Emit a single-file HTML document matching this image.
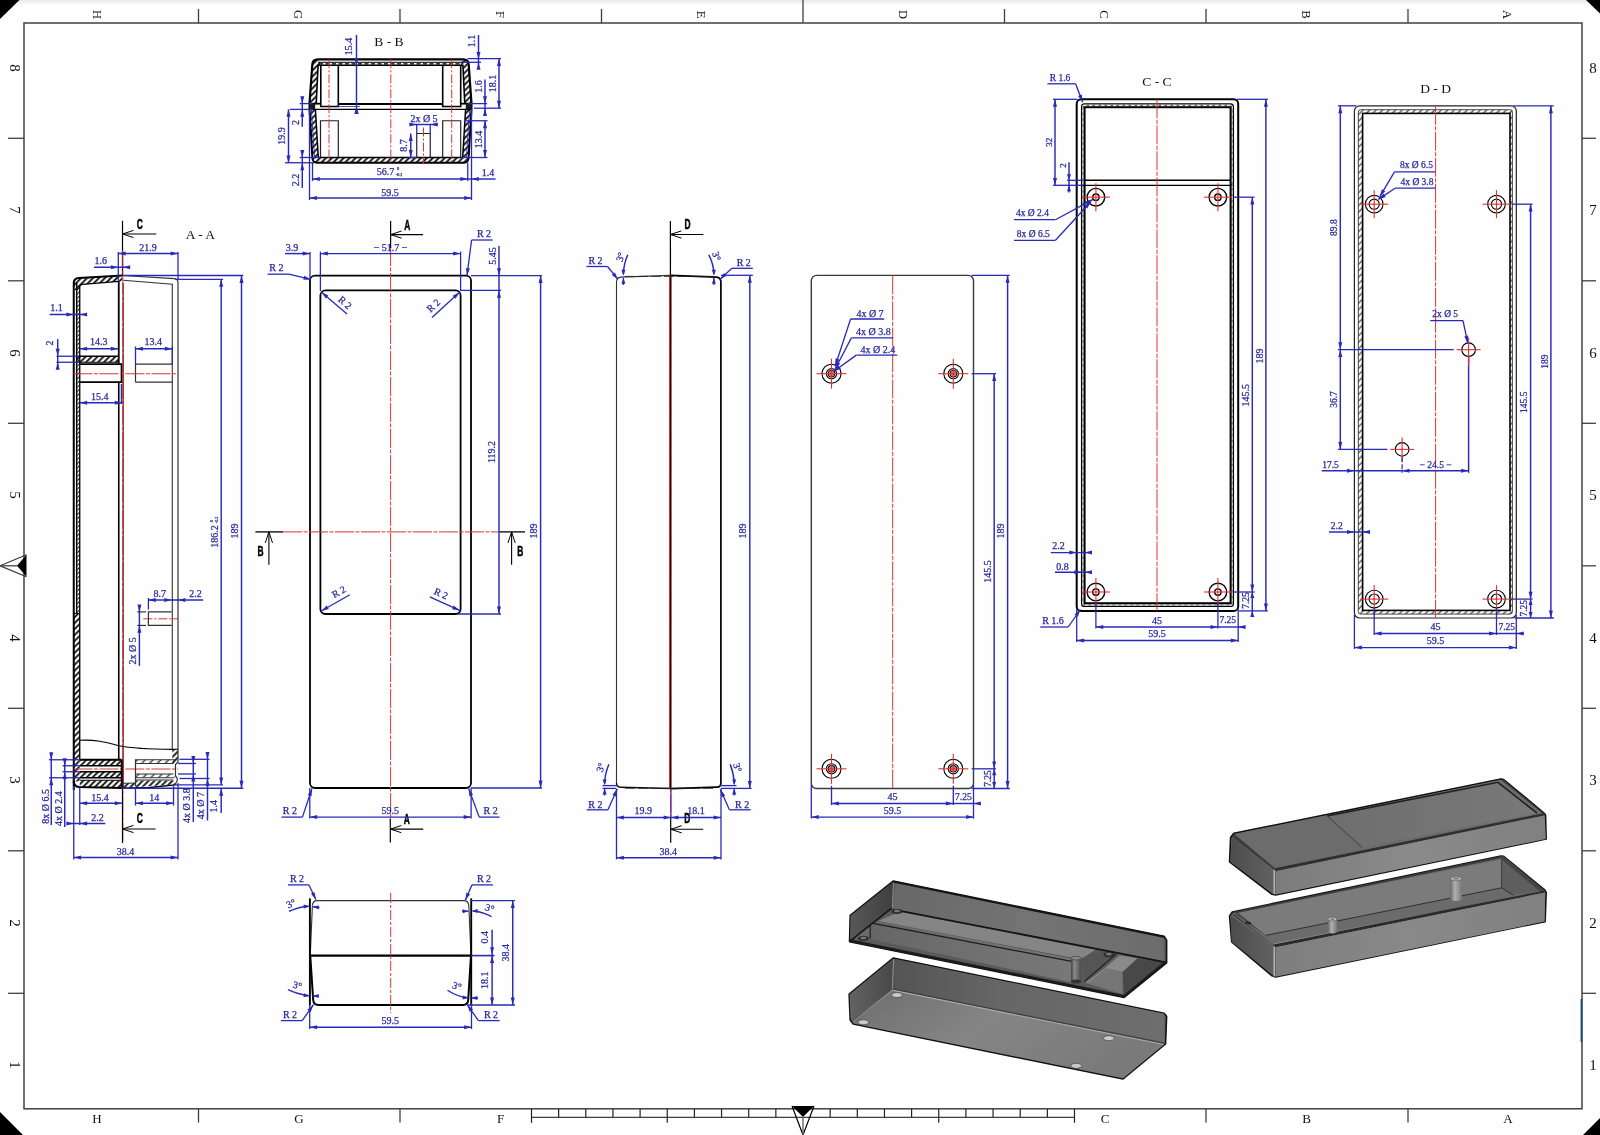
<!DOCTYPE html>
<html><head><meta charset="utf-8"><title>Drawing</title>
<style>html,body{margin:0;padding:0;background:#fefefe}body{width:1600px;height:1135px;overflow:hidden;font-family:"Liberation Serif",serif}svg{display:block}</style>
</head><body>
<svg width="1600" height="1135" viewBox="0 0 1600 1135">
<defs>
<pattern id="h1" width="4.2" height="4.2" patternUnits="userSpaceOnUse" patternTransform="rotate(45)"><line x1="2" y1="0" x2="2" y2="4.2" stroke="#000" stroke-width="1.7"/></pattern>
<pattern id="h2" width="3" height="3" patternUnits="userSpaceOnUse" patternTransform="rotate(45)"><line x1="1.5" y1="0" x2="1.5" y2="3" stroke="#000" stroke-width="0.9"/></pattern>
<pattern id="h3" width="5.5" height="5.5" patternUnits="userSpaceOnUse" patternTransform="rotate(45)"><line x1="2" y1="0" x2="2" y2="5.5" stroke="#000" stroke-width="1"/></pattern>
<pattern id="h4" width="4.6" height="4.6" patternUnits="userSpaceOnUse" patternTransform="rotate(45)"><line x1="2" y1="0" x2="2" y2="4.6" stroke="#000" stroke-width="0.9"/></pattern>
<filter id="noop" filterUnits="userSpaceOnUse" x="0" y="0" width="1600" height="1135"><feOffset dx="0" dy="0"/></filter>
<linearGradient id="topshade" x1="0" y1="0" x2="0" y2="1"><stop offset="0" stop-color="#e8e8e8"/><stop offset="1" stop-color="#fefefe"/></linearGradient>

<linearGradient id="g_back1" x1="0" y1="0" x2="1" y2="0"><stop offset="0" stop-color="#686868"/><stop offset="0.5" stop-color="#747474"/><stop offset="1" stop-color="#6c6c6c"/></linearGradient>
<linearGradient id="g_left1" x1="0" y1="0" x2="1" y2="0"><stop offset="0" stop-color="#585858"/><stop offset="1" stop-color="#3f3f3f"/></linearGradient>
<linearGradient id="g_plat" x1="0" y1="0" x2="1" y2="0"><stop offset="0" stop-color="#666"/><stop offset="0.6" stop-color="#727272"/><stop offset="1" stop-color="#787878"/></linearGradient>
<linearGradient id="g_cyl" x1="0" y1="0" x2="1" y2="0"><stop offset="0" stop-color="#444"/><stop offset="0.35" stop-color="#8a8a8a"/><stop offset="1" stop-color="#4a4a4a"/></linearGradient>
<linearGradient id="g_cyl2" x1="0" y1="0" x2="1" y2="0"><stop offset="0" stop-color="#6a6a6a"/><stop offset="0.4" stop-color="#b0b0b0"/><stop offset="1" stop-color="#7a7a7a"/></linearGradient>
<linearGradient id="g_left2" x1="0" y1="0" x2="1" y2="0"><stop offset="0" stop-color="#636363"/><stop offset="1" stop-color="#484848"/></linearGradient>
<linearGradient id="g_wall2" x1="0" y1="0" x2="1" y2="0"><stop offset="0" stop-color="#545454"/><stop offset="0.4" stop-color="#666"/><stop offset="1" stop-color="#6e6e6e"/></linearGradient>
<linearGradient id="g_bot2" x1="0" y1="0" x2="1" y2="0.4"><stop offset="0" stop-color="#6e6e6e"/><stop offset="0.5" stop-color="#858585"/><stop offset="1" stop-color="#7a7a7a"/></linearGradient>
<linearGradient id="g_lidtop" x1="0" y1="0" x2="1" y2="0"><stop offset="0" stop-color="#6e6e6e"/><stop offset="1" stop-color="#797979"/></linearGradient>
<linearGradient id="g_front3" x1="0" y1="0" x2="1" y2="0"><stop offset="0" stop-color="#7c7c7c"/><stop offset="0.5" stop-color="#8a8a8a"/><stop offset="1" stop-color="#808080"/></linearGradient>
<linearGradient id="g_front4" x1="0" y1="0" x2="1" y2="0"><stop offset="0" stop-color="#7e7e7e"/><stop offset="0.5" stop-color="#898989"/><stop offset="1" stop-color="#808080"/></linearGradient>
<linearGradient id="g_left3" x1="0" y1="0" x2="1" y2="0"><stop offset="0" stop-color="#4c4c4c"/><stop offset="1" stop-color="#626262"/></linearGradient>
</defs>
<rect x="0" y="0" width="1600" height="1135" fill="#fefefe"/>
<rect x="0" y="0" width="1600" height="5" fill="url(#topshade)"/>
<g filter="url(#noop)">
<rect x="24" y="23" width="1558" height="1085.8" fill="none" stroke="#404040" stroke-width="1.5"/>
<polygon points="0,0 19.5,0 0,19" fill="#000" stroke="none" stroke-width="0" />
<polygon points="1586,0 1600,0 1600,13.5" fill="#000" stroke="none" stroke-width="0" />
<polygon points="0,1112 0,1135 23,1135" fill="#000" stroke="none" stroke-width="0" />
<polygon points="1600,1118 1600,1135 1583,1135" fill="#000" stroke="none" stroke-width="0" />
<line x1="198.5" y1="9" x2="198.5" y2="23" stroke="#404040" stroke-width="1.3" />
<line x1="400" y1="9" x2="400" y2="23" stroke="#404040" stroke-width="1.3" />
<line x1="601.5" y1="9" x2="601.5" y2="23" stroke="#404040" stroke-width="1.3" />
<line x1="1004.5" y1="9" x2="1004.5" y2="23" stroke="#404040" stroke-width="1.3" />
<line x1="1206" y1="9" x2="1206" y2="23" stroke="#404040" stroke-width="1.3" />
<line x1="1408" y1="9" x2="1408" y2="23" stroke="#404040" stroke-width="1.3" />
<line x1="803" y1="0" x2="803" y2="23" stroke="#404040" stroke-width="1.3" />
<line x1="198.5" y1="1109" x2="198.5" y2="1122.5" stroke="#404040" stroke-width="1.3" />
<line x1="400" y1="1109" x2="400" y2="1122.5" stroke="#404040" stroke-width="1.3" />
<line x1="1206" y1="1109" x2="1206" y2="1122.5" stroke="#404040" stroke-width="1.3" />
<line x1="1408" y1="1109" x2="1408" y2="1122.5" stroke="#404040" stroke-width="1.3" />
<line x1="1582" y1="138.3" x2="1596" y2="138.3" stroke="#404040" stroke-width="1.3" />
<line x1="8" y1="138.3" x2="24" y2="138.3" stroke="#404040" stroke-width="1.3" />
<line x1="1582" y1="280.8" x2="1596" y2="280.8" stroke="#404040" stroke-width="1.3" />
<line x1="8" y1="280.8" x2="24" y2="280.8" stroke="#404040" stroke-width="1.3" />
<line x1="1582" y1="423.3" x2="1596" y2="423.3" stroke="#404040" stroke-width="1.3" />
<line x1="8" y1="423.3" x2="24" y2="423.3" stroke="#404040" stroke-width="1.3" />
<line x1="1582" y1="565.8" x2="1596" y2="565.8" stroke="#404040" stroke-width="1.3" />
<line x1="1582" y1="708.3" x2="1596" y2="708.3" stroke="#404040" stroke-width="1.3" />
<line x1="8" y1="708.3" x2="24" y2="708.3" stroke="#404040" stroke-width="1.3" />
<line x1="1582" y1="850.8" x2="1596" y2="850.8" stroke="#404040" stroke-width="1.3" />
<line x1="8" y1="850.8" x2="24" y2="850.8" stroke="#404040" stroke-width="1.3" />
<line x1="1582" y1="993.3" x2="1596" y2="993.3" stroke="#404040" stroke-width="1.3" />
<line x1="8" y1="993.3" x2="24" y2="993.3" stroke="#404040" stroke-width="1.3" />
<text x="97" y="18.75" font-family="Liberation Serif" font-size="12.5" fill="#111" text-anchor="middle" font-weight="normal" transform="rotate(90 97 14.5)" >H</text>
<text x="298.5" y="18.75" font-family="Liberation Serif" font-size="12.5" fill="#111" text-anchor="middle" font-weight="normal" transform="rotate(90 298.5 14.5)" >G</text>
<text x="500" y="18.75" font-family="Liberation Serif" font-size="12.5" fill="#111" text-anchor="middle" font-weight="normal" transform="rotate(90 500 14.5)" >F</text>
<text x="701.5" y="18.75" font-family="Liberation Serif" font-size="12.5" fill="#111" text-anchor="middle" font-weight="normal" transform="rotate(90 701.5 14.5)" >E</text>
<text x="903" y="18.75" font-family="Liberation Serif" font-size="12.5" fill="#111" text-anchor="middle" font-weight="normal" transform="rotate(90 903 14.5)" >D</text>
<text x="1104.5" y="18.75" font-family="Liberation Serif" font-size="12.5" fill="#111" text-anchor="middle" font-weight="normal" transform="rotate(90 1104.5 14.5)" >C</text>
<text x="1306" y="18.75" font-family="Liberation Serif" font-size="12.5" fill="#111" text-anchor="middle" font-weight="normal" transform="rotate(90 1306 14.5)" >B</text>
<text x="1507.5" y="18.75" font-family="Liberation Serif" font-size="12.5" fill="#111" text-anchor="middle" font-weight="normal" transform="rotate(90 1507.5 14.5)" >A</text>
<text x="97" y="1122.92" font-family="Liberation Serif" font-size="13" fill="#111" text-anchor="middle" font-weight="normal" >H</text>
<text x="299" y="1122.92" font-family="Liberation Serif" font-size="13" fill="#111" text-anchor="middle" font-weight="normal" >G</text>
<text x="500.5" y="1122.92" font-family="Liberation Serif" font-size="13" fill="#111" text-anchor="middle" font-weight="normal" >F</text>
<text x="1105" y="1122.92" font-family="Liberation Serif" font-size="13" fill="#111" text-anchor="middle" font-weight="normal" >C</text>
<text x="1306.5" y="1122.92" font-family="Liberation Serif" font-size="13" fill="#111" text-anchor="middle" font-weight="normal" >B</text>
<text x="1508" y="1122.92" font-family="Liberation Serif" font-size="13" fill="#111" text-anchor="middle" font-weight="normal" >A</text>
<text x="1593" y="73.1" font-family="Liberation Serif" font-size="15" fill="#111" text-anchor="middle" font-weight="normal" >8</text>
<text x="15" y="73.1" font-family="Liberation Serif" font-size="15" fill="#111" text-anchor="middle" font-weight="normal" transform="rotate(90 15 68)" >8</text>
<text x="1593" y="215.1" font-family="Liberation Serif" font-size="15" fill="#111" text-anchor="middle" font-weight="normal" >7</text>
<text x="15" y="215.1" font-family="Liberation Serif" font-size="15" fill="#111" text-anchor="middle" font-weight="normal" transform="rotate(90 15 210)" >7</text>
<text x="1593" y="358.1" font-family="Liberation Serif" font-size="15" fill="#111" text-anchor="middle" font-weight="normal" >6</text>
<text x="15" y="358.1" font-family="Liberation Serif" font-size="15" fill="#111" text-anchor="middle" font-weight="normal" transform="rotate(90 15 353)" >6</text>
<text x="1593" y="500.1" font-family="Liberation Serif" font-size="15" fill="#111" text-anchor="middle" font-weight="normal" >5</text>
<text x="15" y="500.1" font-family="Liberation Serif" font-size="15" fill="#111" text-anchor="middle" font-weight="normal" transform="rotate(90 15 495)" >5</text>
<text x="1593" y="643.1" font-family="Liberation Serif" font-size="15" fill="#111" text-anchor="middle" font-weight="normal" >4</text>
<text x="15" y="643.1" font-family="Liberation Serif" font-size="15" fill="#111" text-anchor="middle" font-weight="normal" transform="rotate(90 15 638)" >4</text>
<text x="1593" y="785.1" font-family="Liberation Serif" font-size="15" fill="#111" text-anchor="middle" font-weight="normal" >3</text>
<text x="15" y="785.1" font-family="Liberation Serif" font-size="15" fill="#111" text-anchor="middle" font-weight="normal" transform="rotate(90 15 780)" >3</text>
<text x="1593" y="928.1" font-family="Liberation Serif" font-size="15" fill="#111" text-anchor="middle" font-weight="normal" >2</text>
<text x="15" y="928.1" font-family="Liberation Serif" font-size="15" fill="#111" text-anchor="middle" font-weight="normal" transform="rotate(90 15 923)" >2</text>
<text x="1593" y="1070.1" font-family="Liberation Serif" font-size="15" fill="#111" text-anchor="middle" font-weight="normal" >1</text>
<text x="15" y="1070.1" font-family="Liberation Serif" font-size="15" fill="#111" text-anchor="middle" font-weight="normal" transform="rotate(90 15 1065)" >1</text>
<line x1="531.5" y1="1117.3" x2="1074.5" y2="1117.3" stroke="#404040" stroke-width="1.3" />
<line x1="531.5" y1="1109" x2="531.5" y2="1122.8" stroke="#222" stroke-width="1.2" />
<line x1="558.65" y1="1109" x2="558.65" y2="1117.3" stroke="#222" stroke-width="1.2" />
<line x1="585.8" y1="1109" x2="585.8" y2="1117.3" stroke="#222" stroke-width="1.2" />
<line x1="612.95" y1="1109" x2="612.95" y2="1117.3" stroke="#222" stroke-width="1.2" />
<line x1="640.1" y1="1109" x2="640.1" y2="1117.3" stroke="#222" stroke-width="1.2" />
<line x1="667.25" y1="1109" x2="667.25" y2="1122.8" stroke="#222" stroke-width="1.2" />
<line x1="694.4" y1="1109" x2="694.4" y2="1117.3" stroke="#222" stroke-width="1.2" />
<line x1="721.55" y1="1109" x2="721.55" y2="1117.3" stroke="#222" stroke-width="1.2" />
<line x1="748.7" y1="1109" x2="748.7" y2="1117.3" stroke="#222" stroke-width="1.2" />
<line x1="775.85" y1="1109" x2="775.85" y2="1117.3" stroke="#222" stroke-width="1.2" />
<line x1="830.15" y1="1109" x2="830.15" y2="1117.3" stroke="#222" stroke-width="1.2" />
<line x1="857.3" y1="1109" x2="857.3" y2="1117.3" stroke="#222" stroke-width="1.2" />
<line x1="884.45" y1="1109" x2="884.45" y2="1117.3" stroke="#222" stroke-width="1.2" />
<line x1="911.6" y1="1109" x2="911.6" y2="1117.3" stroke="#222" stroke-width="1.2" />
<line x1="938.75" y1="1109" x2="938.75" y2="1122.8" stroke="#222" stroke-width="1.2" />
<line x1="965.9" y1="1109" x2="965.9" y2="1117.3" stroke="#222" stroke-width="1.2" />
<line x1="993.05" y1="1109" x2="993.05" y2="1117.3" stroke="#222" stroke-width="1.2" />
<line x1="1020.2" y1="1109" x2="1020.2" y2="1117.3" stroke="#222" stroke-width="1.2" />
<line x1="1047.35" y1="1109" x2="1047.35" y2="1117.3" stroke="#222" stroke-width="1.2" />
<line x1="1074.5" y1="1109" x2="1074.5" y2="1122.8" stroke="#222" stroke-width="1.2" />
<polygon points="792,1106 814,1106 803,1117" fill="#000" stroke="none" stroke-width="0" />
<path d="M792,1106 L803,1135 L814,1106" stroke="#000" stroke-width="1.2" fill="none" />
<line x1="803" y1="1117" x2="803" y2="1135" stroke="#666" stroke-width="1.4" />
<polygon points="26.5,554.8 26.5,576.8 17,565.8" fill="#000" stroke="none" stroke-width="0" />
<path d="M26.5,554.8 L0,565.8 L26.5,576.8" stroke="#333" stroke-width="1.2" fill="none" />
<line x1="0" y1="565.8" x2="17" y2="565.8" stroke="#444" stroke-width="1.3" />
<line x1="1581.4" y1="999" x2="1581.4" y2="1042" stroke="#1a4a80" stroke-width="1.6" />
<text x="389" y="46.09" font-family="Liberation Serif" font-size="13.5" fill="#111" text-anchor="middle" font-weight="normal" >B - B</text>
<polygon points="309.5,103.7 312.3,64 314.5,60.3 318,59.3 320,59.3 320,65.3 318.1,65.3 316.2,103.7" fill="url(#h1)" stroke="none" stroke-width="0" />
<polygon points="471.5,103.7 468.7,64 466.5,60.3 463,59.3 461,59.3 461,65.3 462.9,65.3 464.8,103.7" fill="url(#h1)" stroke="none" stroke-width="0" />
<path d="M309.5,103.7 L312.3,64.5 Q312.6,59.3 318,59.3 L463,59.3 Q468.4,59.3 468.7,64.5 L471.5,103.7" stroke="#000" stroke-width="2.2" fill="none" />
<path d="M316.2,103.7 L318.1,65.3 L462.9,65.3 L464.8,103.7" stroke="#000" stroke-width="1.6" fill="none" />
<line x1="318" y1="62.3" x2="463" y2="62.3" stroke="#000" stroke-width="1" />
<line x1="319" y1="63.9" x2="462" y2="63.9" stroke="#000" stroke-width="1.1" stroke-dasharray="4 2.5" />
<path d="M320.8,65.3 L320.8,106.5 L338.3,106.5 L338.3,65.3" stroke="#000" stroke-width="1.6" fill="none" />
<path d="M442.7,65.3 L442.7,106.5 L460.7,106.5 L460.7,65.3" stroke="#000" stroke-width="1.6" fill="none" />
<line x1="338.3" y1="103.9" x2="442.7" y2="103.9" stroke="#000" stroke-width="2" />
<line x1="309.5" y1="103.7" x2="320.8" y2="103.7" stroke="#000" stroke-width="1.8" />
<line x1="460.7" y1="103.7" x2="471.5" y2="103.7" stroke="#000" stroke-width="1.8" />
<line x1="309.5" y1="109.4" x2="471.5" y2="109.4" stroke="#000" stroke-width="1.2" />
<line x1="309.5" y1="103.7" x2="309.5" y2="109.4" stroke="#000" stroke-width="2" />
<line x1="471.5" y1="103.7" x2="471.5" y2="109.4" stroke="#000" stroke-width="2" />
<rect x="309.6" y="103.7" width="5.6" height="5.7" fill="#1a1a1a"/>
<rect x="465.8" y="103.7" width="5.6" height="5.7" fill="#1a1a1a"/>
<polygon points="309.5,109.4 315.4,109.4 318.3,157.5 462.7,157.5 465.6,109.4 471.5,109.4 468.6,158 466,162.75 315,162.75 312.4,158" fill="url(#h1)" stroke="none" stroke-width="0" />
<path d="M309.5,109.4 L312.4,158 Q312.8,162.75 317,162.75 L464,162.75 Q468.2,162.75 468.6,158 L471.5,109.4" stroke="#000" stroke-width="2" fill="none" />
<path d="M315.4,109.4 L318.3,157.5 L462.7,157.5 L465.6,109.4" stroke="#000" stroke-width="1.5" fill="none" />
<line x1="311.4" y1="110" x2="314.6" y2="158" stroke="#2a2ab8" stroke-width="0.9" />
<line x1="469.6" y1="110" x2="466.4" y2="158" stroke="#2a2ab8" stroke-width="0.9" />
<path d="M320.5,157.5 L320.5,120.75 L338.3,120.75 L338.3,157.5" stroke="#222" stroke-width="1.2" fill="none" />
<path d="M442.7,157.5 L442.7,120.75 L460.7,120.75 L460.7,157.5" stroke="#222" stroke-width="1.2" fill="none" />
<path d="M416.75,157.5 L416.75,133.5 L430.25,133.5 L430.25,157.5" stroke="#222" stroke-width="1.2" fill="none" />
<line x1="329" y1="59.3" x2="329" y2="163.5" stroke="#dc3434" stroke-width="1" stroke-dasharray="9 2 2 2" />
<line x1="390.8" y1="59.3" x2="390.8" y2="163.5" stroke="#dc3434" stroke-width="1" stroke-dasharray="9 2 2 2" />
<line x1="451.7" y1="59.3" x2="451.7" y2="163.5" stroke="#dc3434" stroke-width="1" stroke-dasharray="9 2 2 2" />
<line x1="423.5" y1="127.5" x2="423.5" y2="163.5" stroke="#dc3434" stroke-width="1" stroke-dasharray="9 2 2 2" />
<line x1="356.5" y1="35" x2="356.5" y2="113" stroke="#2a2ab8" stroke-width="1.45" />
<polygon points="356.5,65.3 354.5,57.9 358.5,57.9" fill="#2a2ab8" stroke="none" stroke-width="0" />
<polygon points="356.5,106.5 358.5,113.9 354.5,113.9" fill="#2a2ab8" stroke="none" stroke-width="0" />
<polygon points="356.5,106.5 358.5,113.9 354.5,113.9" fill="#2a2ab8" stroke="none" stroke-width="0" />
<line x1="338.3" y1="106.5" x2="360" y2="106.5" stroke="#2a2ab8" stroke-width="0.8" />
<text x="349" y="49.9" font-family="Liberation Serif" font-size="10" fill="#28289c" text-anchor="middle" font-weight="normal" transform="rotate(-90 349 46.5)" stroke="#28289c" stroke-width="0.25" >15.4</text>
<line x1="478.5" y1="35" x2="478.5" y2="68" stroke="#2a2ab8" stroke-width="1.45" />
<polygon points="478.5,59.3 476.5,51.9 480.5,51.9" fill="#2a2ab8" stroke="none" stroke-width="0" />
<polygon points="478.5,62.3 480.5,69.7 476.5,69.7" fill="#2a2ab8" stroke="none" stroke-width="0" />
<line x1="467.5" y1="58.6" x2="501" y2="58.6" stroke="#2a2ab8" stroke-width="1.3" />
<line x1="461" y1="62.3" x2="481" y2="62.3" stroke="#2a2ab8" stroke-width="1.3" />
<text x="471.5" y="44.4" font-family="Liberation Serif" font-size="10" fill="#28289c" text-anchor="middle" font-weight="normal" transform="rotate(-90 471.5 41)" stroke="#28289c" stroke-width="0.25" >1.1</text>
<line x1="499" y1="58.6" x2="499" y2="108.2" stroke="#2a2ab8" stroke-width="1.45" />
<polygon points="499,58.6 501,66 497,66" fill="#2a2ab8" stroke="none" stroke-width="0" />
<polygon points="499,108.2 497,100.8 501,100.8" fill="#2a2ab8" stroke="none" stroke-width="0" />
<text x="492.5" y="86.9" font-family="Liberation Serif" font-size="10" fill="#28289c" text-anchor="middle" font-weight="normal" transform="rotate(-90 492.5 83.5)" stroke="#28289c" stroke-width="0.25" >18.1</text>
<line x1="485" y1="79.5" x2="485" y2="115" stroke="#2a2ab8" stroke-width="1.45" />
<polygon points="485,103.6 483,96.2 487,96.2" fill="#2a2ab8" stroke="none" stroke-width="0" />
<polygon points="485,108.5 487,115.9 483,115.9" fill="#2a2ab8" stroke="none" stroke-width="0" />
<text x="479" y="89.9" font-family="Liberation Serif" font-size="10" fill="#28289c" text-anchor="middle" font-weight="normal" transform="rotate(-90 479 86.5)" stroke="#28289c" stroke-width="0.25" >1.6</text>
<line x1="468" y1="103.6" x2="487" y2="103.6" stroke="#2a2ab8" stroke-width="1.3" />
<line x1="474" y1="108.2" x2="501" y2="108.2" stroke="#2a2ab8" stroke-width="1.3" />
<line x1="485" y1="120.75" x2="485" y2="157.5" stroke="#2a2ab8" stroke-width="1.45" />
<polygon points="485,120.75 487,128.15 483,128.15" fill="#2a2ab8" stroke="none" stroke-width="0" />
<polygon points="485,157.5 483,150.1 487,150.1" fill="#2a2ab8" stroke="none" stroke-width="0" />
<line x1="464" y1="120.75" x2="487.5" y2="120.75" stroke="#2a2ab8" stroke-width="1.3" />
<line x1="461" y1="157.5" x2="487.5" y2="157.5" stroke="#2a2ab8" stroke-width="1.3" />
<text x="479" y="142.9" font-family="Liberation Serif" font-size="10" fill="#28289c" text-anchor="middle" font-weight="normal" transform="rotate(-90 479 139.5)" stroke="#28289c" stroke-width="0.25" >13.4</text>
<text x="424" y="121.9" font-family="Liberation Serif" font-size="10" fill="#28289c" text-anchor="middle" font-weight="normal" stroke="#28289c" stroke-width="0.25" >2x Ø 5</text>
<line x1="410" y1="124.5" x2="438" y2="124.5" stroke="#2a2ab8" stroke-width="1.45" />
<polygon points="416.75,124.5 409.35,126.5 409.35,122.5" fill="#2a2ab8" stroke="none" stroke-width="0" />
<polygon points="430.25,124.5 437.65,122.5 437.65,126.5" fill="#2a2ab8" stroke="none" stroke-width="0" />
<line x1="416.75" y1="124.5" x2="416.75" y2="133.5" stroke="#2a2ab8" stroke-width="1.3" />
<line x1="430.25" y1="124.5" x2="430.25" y2="133.5" stroke="#2a2ab8" stroke-width="1.3" />
<line x1="410.75" y1="133.5" x2="410.75" y2="157.5" stroke="#2a2ab8" stroke-width="1.45" />
<polygon points="410.75,133.5 412.75,140.9 408.75,140.9" fill="#2a2ab8" stroke="none" stroke-width="0" />
<polygon points="410.75,157.5 408.75,150.1 412.75,150.1" fill="#2a2ab8" stroke="none" stroke-width="0" />
<text x="404" y="148.9" font-family="Liberation Serif" font-size="10" fill="#28289c" text-anchor="middle" font-weight="normal" transform="rotate(-90 404 145.5)" stroke="#28289c" stroke-width="0.25" >8.7</text>
<line x1="409" y1="157.5" x2="417" y2="157.5" stroke="#2a2ab8" stroke-width="1.3" />
<line x1="302.3" y1="96.8" x2="302.3" y2="126.8" stroke="#2a2ab8" stroke-width="1.45" />
<polygon points="302.3,103.6 300.3,96.2 304.3,96.2" fill="#2a2ab8" stroke="none" stroke-width="0" />
<polygon points="302.3,109.4 304.3,116.8 300.3,116.8" fill="#2a2ab8" stroke="none" stroke-width="0" />
<line x1="299.7" y1="103.6" x2="312.5" y2="103.6" stroke="#2a2ab8" stroke-width="1.3" />
<line x1="290" y1="109.4" x2="312.5" y2="109.4" stroke="#2a2ab8" stroke-width="1.3" />
<text x="296" y="125.9" font-family="Liberation Serif" font-size="10" fill="#28289c" text-anchor="middle" font-weight="normal" transform="rotate(-90 296 122.5)" stroke="#28289c" stroke-width="0.25" >2</text>
<line x1="288.5" y1="109.3" x2="288.5" y2="162.9" stroke="#2a2ab8" stroke-width="1.45" />
<polygon points="288.5,109.3 290.5,116.7 286.5,116.7" fill="#2a2ab8" stroke="none" stroke-width="0" />
<polygon points="288.5,162.9 286.5,155.5 290.5,155.5" fill="#2a2ab8" stroke="none" stroke-width="0" />
<text x="282" y="139.4" font-family="Liberation Serif" font-size="10" fill="#28289c" text-anchor="middle" font-weight="normal" transform="rotate(-90 282 136)" stroke="#28289c" stroke-width="0.25" >19.9</text>
<line x1="302.3" y1="150" x2="302.3" y2="188" stroke="#2a2ab8" stroke-width="1.45" />
<polygon points="302.3,157.5 300.3,150.1 304.3,150.1" fill="#2a2ab8" stroke="none" stroke-width="0" />
<polygon points="302.3,162.75 304.3,170.15 300.3,170.15" fill="#2a2ab8" stroke="none" stroke-width="0" />
<line x1="299.7" y1="157.5" x2="320" y2="157.5" stroke="#2a2ab8" stroke-width="1.3" />
<line x1="285" y1="162.75" x2="314" y2="162.75" stroke="#2a2ab8" stroke-width="1.3" />
<text x="296" y="183.4" font-family="Liberation Serif" font-size="10" fill="#28289c" text-anchor="middle" font-weight="normal" transform="rotate(-90 296 180)" stroke="#28289c" stroke-width="0.25" >2.2</text>
<line x1="312.5" y1="179" x2="467.75" y2="179" stroke="#2a2ab8" stroke-width="1.45" />
<polygon points="312.5,179 319.9,177 319.9,181" fill="#2a2ab8" stroke="none" stroke-width="0" />
<polygon points="467.75,179 460.35,181 460.35,177" fill="#2a2ab8" stroke="none" stroke-width="0" />
<text x="385.5" y="175.2" font-family="Liberation Serif" font-size="10" fill="#28289c" text-anchor="middle" font-weight="normal" stroke="#28289c" stroke-width="0.25" >56.7</text>
<text x="398" y="170.03" font-family="Liberation Serif" font-size="4.5" fill="#28289c" text-anchor="middle" font-weight="normal" stroke="#28289c" stroke-width="0.25" >0</text>
<text x="399" y="175.86" font-family="Liberation Serif" font-size="4" fill="#28289c" text-anchor="middle" font-weight="normal" stroke="#28289c" stroke-width="0.25" >-0.2</text>
<line x1="467.75" y1="179" x2="495.5" y2="179" stroke="#2a2ab8" stroke-width="1.45" />
<polygon points="471.5,179 478.9,177 478.9,181" fill="#2a2ab8" stroke="none" stroke-width="0" />
<text x="488" y="175.9" font-family="Liberation Serif" font-size="10" fill="#28289c" text-anchor="middle" font-weight="normal" stroke="#28289c" stroke-width="0.25" >1.4</text>
<line x1="309.5" y1="198" x2="471.5" y2="198" stroke="#2a2ab8" stroke-width="1.45" />
<polygon points="309.5,198 316.9,196 316.9,200" fill="#2a2ab8" stroke="none" stroke-width="0" />
<polygon points="471.5,198 464.1,200 464.1,196" fill="#2a2ab8" stroke="none" stroke-width="0" />
<text x="390" y="195.7" font-family="Liberation Serif" font-size="10" fill="#28289c" text-anchor="middle" font-weight="normal" stroke="#28289c" stroke-width="0.25" >59.5</text>
<line x1="309.5" y1="109.4" x2="309.5" y2="200" stroke="#2a2ab8" stroke-width="1.3" />
<line x1="471.5" y1="109.4" x2="471.5" y2="200" stroke="#2a2ab8" stroke-width="1.3" />
<line x1="312.5" y1="162.75" x2="312.5" y2="181" stroke="#2a2ab8" stroke-width="1.3" />
<line x1="467.75" y1="162.75" x2="467.75" y2="181" stroke="#2a2ab8" stroke-width="1.3" />
<text x="200.5" y="238.59" font-family="Liberation Serif" font-size="13.5" fill="#111" text-anchor="middle" font-weight="normal" >A - A</text>
<line x1="122.5" y1="220.8" x2="122.5" y2="276" stroke="#000" stroke-width="1.2" />
<line x1="122.5" y1="234" x2="156.25" y2="234" stroke="#000" stroke-width="1.1" />
<path d="M133.5,230.4 L122.5,234 L133.5,237.6" stroke="#000" stroke-width="1" fill="none" />
<text x="139.75" y="229.26" font-family="Liberation Sans" font-size="14" fill="#000" text-anchor="middle" font-weight="bold" transform="translate(139.75 224.5) scale(0.6 1) translate(-139.75 -224.5)" stroke="#000" stroke-width="0.5">C</text>
<polygon points="73.75,290 73.75,283 75,279.2 79,277.9 122.5,275.5 122.5,281.2 82.5,284.4 79.75,286.5 79.75,290" fill="url(#h1)" stroke="none" stroke-width="0" />
<path d="M73.75,790 L73.75,283 Q73.75,278.2 79,277.9 L122.5,275.5" stroke="#000" stroke-width="2" fill="none" />
<path d="M79.75,759.75 L79.75,286.8 Q79.75,284.6 82.5,284.4 L118.75,281.4" stroke="#000" stroke-width="1.3" fill="none" />
<line x1="76.7" y1="283" x2="76.7" y2="613.4" stroke="#000" stroke-width="1.5" />
<rect x="77.3" y="286" width="2.3" height="327" fill="url(#h2)"/>
<rect x="73.75" y="613.4" width="6" height="168" fill="url(#h1)"/>
<line x1="73.75" y1="613.4" x2="79.75" y2="613.4" stroke="#000" stroke-width="1" />
<line x1="118.75" y1="280.6" x2="118.75" y2="363.7" stroke="#000" stroke-width="1.8" />
<line x1="118.75" y1="382.2" x2="118.75" y2="759.75" stroke="#000" stroke-width="1.6" />
<rect x="76.7" y="356.25" width="42" height="6" fill="url(#h1)"/>
<line x1="79.75" y1="356.25" x2="118.75" y2="356.25" stroke="#000" stroke-width="1.5" />
<line x1="76.7" y1="362.25" x2="118.75" y2="362.25" stroke="#000" stroke-width="1.2" />
<path d="M79.75,364.2 L121.6,364.2 L121.6,382.2 L79.75,382.2" stroke="#000" stroke-width="1.8" fill="none" />
<path d="M122.5,275.5 L174.5,278.6 Q178,279 178,282.5 L178,749.3" stroke="#333" stroke-width="1.2" fill="none" />
<path d="M123.2,280.2 L172.3,284.2 L172.3,749" stroke="#333" stroke-width="1.1" fill="none" />
<path d="M135.5,382.2 L135.5,364.2 L172.3,364.2 M135.5,382.2 L172.3,382.2" stroke="#333" stroke-width="1.2" fill="none" />
<line x1="122.8" y1="250" x2="122.8" y2="842" stroke="#dc3434" stroke-width="1" stroke-dasharray="19 1.5 4 1.5" />
<line x1="123.2" y1="283" x2="123.2" y2="787" stroke="#8e2626" stroke-width="1.3" />
<line x1="73.4" y1="373.8" x2="178.3" y2="373.8" stroke="#dc3434" stroke-width="1.1" stroke-dasharray="19 1.5 4 1.5" />
<line x1="143.3" y1="618.8" x2="178.3" y2="618.8" stroke="#dc3434" stroke-width="1" stroke-dasharray="9 2 2 2" />
<line x1="73.4" y1="769" x2="178.3" y2="769" stroke="#dc3434" stroke-width="1" stroke-dasharray="19 1.5 4 1.5" />
<path d="M171.7,611.9 L148.4,611.9 L148.4,625.4 L171.7,625.4" stroke="#333" stroke-width="1.2" fill="none" />
<path d="M79.75,740.3 C95,739.5 105,742 118,745.5 C135,749 155,749.5 178,749.3" stroke="#000" stroke-width="1.1" fill="none" />
<polygon points="172.3,749.3 178,749.3 178,762 176,764 172.3,763.5" fill="url(#h1)" stroke="none" stroke-width="0" />
<path d="M178,749.3 L178,762 L175.5,764.5 L175.5,776 Q178,778 177,781 L175,784.8" stroke="#333" stroke-width="1.2" fill="none" />
<rect x="79.75" y="759.75" width="42" height="6" fill="url(#h1)"/>
<rect x="79.75" y="771.75" width="42" height="6" fill="url(#h1)"/>
<rect x="79.75" y="780.3" width="42" height="7" fill="url(#h1)"/>
<line x1="79.75" y1="759.75" x2="121.75" y2="759.75" stroke="#000" stroke-width="2" />
<line x1="79.75" y1="765.75" x2="121.75" y2="765.75" stroke="#000" stroke-width="1.4" />
<line x1="79.75" y1="771.75" x2="121.75" y2="771.75" stroke="#000" stroke-width="1.4" />
<line x1="79.75" y1="777.75" x2="121.75" y2="777.75" stroke="#000" stroke-width="1.3" />
<line x1="79.75" y1="780.3" x2="121.75" y2="780.3" stroke="#000" stroke-width="1.1" />
<line x1="121.75" y1="759.75" x2="121.75" y2="787.5" stroke="#000" stroke-width="2" />
<path d="M73.75,781 Q73.75,786.5 79,787 L121.75,788" stroke="#000" stroke-width="2.2" fill="none" />
<polygon points="135.5,759.75 175.5,759.75 173.5,763.5 135.5,763.5" fill="url(#h3)" stroke="none" stroke-width="0" />
<polygon points="135.5,774 173.5,774 175.5,777.75 135.5,777.75" fill="url(#h3)" stroke="none" stroke-width="0" />
<polygon points="122,783.3 135.5,783 135.5,780.6 173.5,780.6 175.5,784.6 122,788" fill="url(#h1)" stroke="none" stroke-width="0" />
<path d="M135.5,786 L135.5,759.75 L176,759.75" stroke="#333" stroke-width="1.2" fill="none" />
<line x1="135.5" y1="763.5" x2="173.5" y2="763.5" stroke="#333" stroke-width="1.1" />
<line x1="135.5" y1="774" x2="173.5" y2="774" stroke="#333" stroke-width="1.1" />
<line x1="135.5" y1="777.75" x2="173.5" y2="777.75" stroke="#333" stroke-width="1.1" />
<line x1="135.5" y1="780" x2="173.5" y2="780" stroke="#333" stroke-width="1.1" />
<path d="M121.75,788.2 L150,787.5 L175,784.8" stroke="#000" stroke-width="1.3" fill="none" />
<path d="M122,783.3 L135.5,783" stroke="#333" stroke-width="1" fill="none" />
<line x1="118.3" y1="253.5" x2="178" y2="253.5" stroke="#2a2ab8" stroke-width="1.45" />
<polygon points="118.3,253.5 125.7,251.5 125.7,255.5" fill="#2a2ab8" stroke="none" stroke-width="0" />
<polygon points="178,253.5 170.6,255.5 170.6,251.5" fill="#2a2ab8" stroke="none" stroke-width="0" />
<line x1="118.3" y1="252" x2="118.3" y2="280.5" stroke="#2a2ab8" stroke-width="1.3" />
<line x1="178" y1="252" x2="178" y2="279.8" stroke="#2a2ab8" stroke-width="1.3" />
<text x="148" y="250.9" font-family="Liberation Serif" font-size="10" fill="#28289c" text-anchor="middle" font-weight="normal" stroke="#28289c" stroke-width="0.25" >21.9</text>
<line x1="94" y1="267.3" x2="129.7" y2="267.3" stroke="#2a2ab8" stroke-width="1.45" />
<polygon points="118.3,267.3 110.9,269.3 110.9,265.3" fill="#2a2ab8" stroke="none" stroke-width="0" />
<polygon points="122.8,267.3 130.2,265.3 130.2,269.3" fill="#2a2ab8" stroke="none" stroke-width="0" />
<text x="100.75" y="264.4" font-family="Liberation Serif" font-size="10" fill="#28289c" text-anchor="middle" font-weight="normal" stroke="#28289c" stroke-width="0.25" >1.6</text>
<line x1="49.75" y1="314.5" x2="83.5" y2="314.5" stroke="#2a2ab8" stroke-width="1.45" />
<polygon points="73.75,314.5 66.35,316.5 66.35,312.5" fill="#2a2ab8" stroke="none" stroke-width="0" />
<polygon points="79.75,314.5 87.15,312.5 87.15,316.5" fill="#2a2ab8" stroke="none" stroke-width="0" />
<text x="56.5" y="311.4" font-family="Liberation Serif" font-size="10" fill="#28289c" text-anchor="middle" font-weight="normal" stroke="#28289c" stroke-width="0.25" >1.1</text>
<line x1="57.7" y1="339" x2="57.7" y2="368" stroke="#2a2ab8" stroke-width="1.45" />
<polygon points="57.7,356.25 55.7,348.85 59.7,348.85" fill="#2a2ab8" stroke="none" stroke-width="0" />
<polygon points="57.7,362.25 59.7,369.65 55.7,369.65" fill="#2a2ab8" stroke="none" stroke-width="0" />
<line x1="56.5" y1="356.25" x2="79" y2="356.25" stroke="#2a2ab8" stroke-width="1.3" />
<line x1="56.5" y1="362.25" x2="79" y2="362.25" stroke="#2a2ab8" stroke-width="1.3" />
<text x="50" y="346.4" font-family="Liberation Serif" font-size="10" fill="#28289c" text-anchor="middle" font-weight="normal" transform="rotate(-90 50 343)" stroke="#28289c" stroke-width="0.25" >2</text>
<line x1="79.75" y1="348.75" x2="118.3" y2="348.75" stroke="#2a2ab8" stroke-width="1.45" />
<polygon points="79.75,348.75 87.15,346.75 87.15,350.75" fill="#2a2ab8" stroke="none" stroke-width="0" />
<polygon points="118.3,348.75 110.9,350.75 110.9,346.75" fill="#2a2ab8" stroke="none" stroke-width="0" />
<text x="98.8" y="345.4" font-family="Liberation Serif" font-size="10" fill="#28289c" text-anchor="middle" font-weight="normal" stroke="#28289c" stroke-width="0.25" >14.3</text>
<line x1="135.5" y1="348.75" x2="172.3" y2="348.75" stroke="#2a2ab8" stroke-width="1.45" />
<polygon points="135.5,348.75 142.9,346.75 142.9,350.75" fill="#2a2ab8" stroke="none" stroke-width="0" />
<polygon points="172.3,348.75 164.9,350.75 164.9,346.75" fill="#2a2ab8" stroke="none" stroke-width="0" />
<text x="153.25" y="345.4" font-family="Liberation Serif" font-size="10" fill="#28289c" text-anchor="middle" font-weight="normal" stroke="#28289c" stroke-width="0.25" >13.4</text>
<line x1="135.5" y1="346.5" x2="135.5" y2="364.2" stroke="#2a2ab8" stroke-width="1.3" />
<line x1="172.3" y1="346.5" x2="172.3" y2="364.2" stroke="#2a2ab8" stroke-width="1.3" />
<line x1="79.75" y1="402.8" x2="122.3" y2="402.8" stroke="#2a2ab8" stroke-width="1.45" />
<polygon points="79.75,402.8 87.15,400.8 87.15,404.8" fill="#2a2ab8" stroke="none" stroke-width="0" />
<polygon points="122.3,402.8 114.9,404.8 114.9,400.8" fill="#2a2ab8" stroke="none" stroke-width="0" />
<text x="99.8" y="399.7" font-family="Liberation Serif" font-size="10" fill="#28289c" text-anchor="middle" font-weight="normal" stroke="#28289c" stroke-width="0.25" >15.4</text>
<line x1="121.4" y1="384" x2="121.4" y2="404" stroke="#2a2ab8" stroke-width="1.3" />
<line x1="123.2" y1="275.5" x2="243.25" y2="275.5" stroke="#2a2ab8" stroke-width="1.3" />
<line x1="175" y1="279.3" x2="223" y2="279.3" stroke="#2a2ab8" stroke-width="1.3" />
<line x1="241.5" y1="275.5" x2="241.5" y2="788.25" stroke="#2a2ab8" stroke-width="1.45" />
<polygon points="241.5,275.5 243.5,282.9 239.5,282.9" fill="#2a2ab8" stroke="none" stroke-width="0" />
<polygon points="241.5,788.25 239.5,780.85 243.5,780.85" fill="#2a2ab8" stroke="none" stroke-width="0" />
<text x="235" y="534.4" font-family="Liberation Serif" font-size="10" fill="#28289c" text-anchor="middle" font-weight="normal" transform="rotate(-90 235 531)" stroke="#28289c" stroke-width="0.25" >189</text>
<line x1="221.2" y1="279.3" x2="221.2" y2="784.8" stroke="#2a2ab8" stroke-width="1.45" />
<polygon points="221.2,279.3 223.2,286.7 219.2,286.7" fill="#2a2ab8" stroke="none" stroke-width="0" />
<polygon points="221.2,784.8 219.2,777.4 223.2,777.4" fill="#2a2ab8" stroke="none" stroke-width="0" />
<text x="214.5" y="539.9" font-family="Liberation Serif" font-size="10" fill="#28289c" text-anchor="middle" font-weight="normal" transform="rotate(-90 214.5 536.5)" stroke="#28289c" stroke-width="0.25" >186.2</text>
<text x="211.6" y="522.53" font-family="Liberation Serif" font-size="4.5" fill="#28289c" text-anchor="middle" font-weight="normal" transform="rotate(-90 211.6 521)" stroke="#28289c" stroke-width="0.25" >0</text>
<text x="217" y="521.36" font-family="Liberation Serif" font-size="4" fill="#28289c" text-anchor="middle" font-weight="normal" transform="rotate(-90 217 520)" stroke="#28289c" stroke-width="0.25" >-0.2</text>
<line x1="148.4" y1="600" x2="203.2" y2="600" stroke="#2a2ab8" stroke-width="1.45" />
<polygon points="148.4,600 155.8,598 155.8,602" fill="#2a2ab8" stroke="none" stroke-width="0" />
<polygon points="171.7,600 164.3,602 164.3,598" fill="#2a2ab8" stroke="none" stroke-width="0" />
<polygon points="178,600 185.4,598 185.4,602" fill="#2a2ab8" stroke="none" stroke-width="0" />
<text x="159.7" y="596.7" font-family="Liberation Serif" font-size="10" fill="#28289c" text-anchor="middle" font-weight="normal" stroke="#28289c" stroke-width="0.25" >8.7</text>
<text x="195.4" y="596.7" font-family="Liberation Serif" font-size="10" fill="#28289c" text-anchor="middle" font-weight="normal" stroke="#28289c" stroke-width="0.25" >2.2</text>
<line x1="148.4" y1="598" x2="148.4" y2="609.5" stroke="#2a2ab8" stroke-width="1.3" />
<line x1="139.4" y1="605.3" x2="139.4" y2="665.8" stroke="#2a2ab8" stroke-width="1.45" />
<polygon points="139.4,611.9 137.4,604.5 141.4,604.5" fill="#2a2ab8" stroke="none" stroke-width="0" />
<polygon points="139.4,625.4 141.4,632.8 137.4,632.8" fill="#2a2ab8" stroke="none" stroke-width="0" />
<line x1="137.3" y1="611.9" x2="146" y2="611.9" stroke="#223" stroke-width="1.1" />
<line x1="137.3" y1="625.4" x2="146" y2="625.4" stroke="#223" stroke-width="1.1" />
<text x="132.8" y="654.3" font-family="Liberation Serif" font-size="10" fill="#28289c" text-anchor="middle" font-weight="normal" transform="rotate(-90 132.8 650.9)" stroke="#28289c" stroke-width="0.25" >2x Ø 5</text>
<line x1="51.25" y1="753.75" x2="51.25" y2="825" stroke="#2a2ab8" stroke-width="1.45" />
<polygon points="51.25,759.75 49.25,752.35 53.25,752.35" fill="#2a2ab8" stroke="none" stroke-width="0" />
<polygon points="51.25,777.75 53.25,785.15 49.25,785.15" fill="#2a2ab8" stroke="none" stroke-width="0" />
<line x1="49" y1="759.75" x2="79.75" y2="759.75" stroke="#2a2ab8" stroke-width="1.3" />
<line x1="49" y1="777.75" x2="79.75" y2="777.75" stroke="#2a2ab8" stroke-width="1.3" />
<text x="45.25" y="809.65" font-family="Liberation Serif" font-size="10" fill="#28289c" text-anchor="middle" font-weight="normal" transform="rotate(-90 45.25 806.25)" stroke="#28289c" stroke-width="0.25" >8x Ø 6.5</text>
<line x1="64.75" y1="759" x2="64.75" y2="827" stroke="#2a2ab8" stroke-width="1.45" />
<polygon points="64.75,765.75 62.75,758.35 66.75,758.35" fill="#2a2ab8" stroke="none" stroke-width="0" />
<polygon points="64.75,771.75 66.75,779.15 62.75,779.15" fill="#2a2ab8" stroke="none" stroke-width="0" />
<line x1="62.5" y1="765.75" x2="79.75" y2="765.75" stroke="#2a2ab8" stroke-width="1.3" />
<line x1="62.5" y1="771.75" x2="79.75" y2="771.75" stroke="#2a2ab8" stroke-width="1.3" />
<text x="58.75" y="811.9" font-family="Liberation Serif" font-size="10" fill="#28289c" text-anchor="middle" font-weight="normal" transform="rotate(-90 58.75 808.5)" stroke="#28289c" stroke-width="0.25" >4x Ø 2.4</text>
<line x1="79.75" y1="803.25" x2="122.2" y2="803.25" stroke="#2a2ab8" stroke-width="1.45" />
<polygon points="79.75,803.25 87.15,801.25 87.15,805.25" fill="#2a2ab8" stroke="none" stroke-width="0" />
<polygon points="122.2,803.25 114.8,805.25 114.8,801.25" fill="#2a2ab8" stroke="none" stroke-width="0" />
<text x="100" y="800.65" font-family="Liberation Serif" font-size="10" fill="#28289c" text-anchor="middle" font-weight="normal" stroke="#28289c" stroke-width="0.25" >15.4</text>
<line x1="135.5" y1="803.25" x2="173.5" y2="803.25" stroke="#2a2ab8" stroke-width="1.45" />
<polygon points="135.5,803.25 142.9,801.25 142.9,805.25" fill="#2a2ab8" stroke="none" stroke-width="0" />
<polygon points="173.5,803.25 166.1,805.25 166.1,801.25" fill="#2a2ab8" stroke="none" stroke-width="0" />
<text x="154.3" y="800.65" font-family="Liberation Serif" font-size="10" fill="#28289c" text-anchor="middle" font-weight="normal" stroke="#28289c" stroke-width="0.25" >14</text>
<line x1="135.5" y1="787.5" x2="135.5" y2="805.5" stroke="#2a2ab8" stroke-width="1.3" />
<line x1="173.5" y1="786" x2="173.5" y2="805.5" stroke="#2a2ab8" stroke-width="1.3" />
<line x1="79.75" y1="787.5" x2="79.75" y2="825" stroke="#2a2ab8" stroke-width="1.3" />
<line x1="67" y1="823.5" x2="105.25" y2="823.5" stroke="#2a2ab8" stroke-width="1.45" />
<polygon points="73.75,823.5 66.35,825.5 66.35,821.5" fill="#2a2ab8" stroke="none" stroke-width="0" />
<polygon points="79.75,823.5 87.15,821.5 87.15,825.5" fill="#2a2ab8" stroke="none" stroke-width="0" />
<text x="97.5" y="820.9" font-family="Liberation Serif" font-size="10" fill="#28289c" text-anchor="middle" font-weight="normal" stroke="#28289c" stroke-width="0.25" >2.2</text>
<line x1="122.5" y1="789" x2="122.5" y2="843" stroke="#000" stroke-width="1.2" />
<line x1="122.5" y1="829" x2="155.5" y2="829" stroke="#000" stroke-width="1.1" />
<path d="M133.5,825.4 L122.5,829 L133.5,832.6" stroke="#000" stroke-width="1" fill="none" />
<text x="139.75" y="823.26" font-family="Liberation Sans" font-size="14" fill="#000" text-anchor="middle" font-weight="bold" transform="translate(139.75 818.5) scale(0.6 1) translate(-139.75 -818.5)" stroke="#000" stroke-width="0.5">C</text>
<line x1="73.75" y1="857.5" x2="178" y2="857.5" stroke="#2a2ab8" stroke-width="1.45" />
<polygon points="73.75,857.5 81.15,855.5 81.15,859.5" fill="#2a2ab8" stroke="none" stroke-width="0" />
<polygon points="178,857.5 170.6,859.5 170.6,855.5" fill="#2a2ab8" stroke="none" stroke-width="0" />
<text x="125.5" y="854.65" font-family="Liberation Serif" font-size="10" fill="#28289c" text-anchor="middle" font-weight="normal" stroke="#28289c" stroke-width="0.25" >38.4</text>
<line x1="73.75" y1="786" x2="73.75" y2="859.5" stroke="#2a2ab8" stroke-width="1.3" />
<line x1="178" y1="783" x2="178" y2="859.5" stroke="#2a2ab8" stroke-width="1.3" />
<line x1="193.3" y1="756.75" x2="193.3" y2="822" stroke="#2a2ab8" stroke-width="1.45" />
<polygon points="193.3,763.5 191.3,756.1 195.3,756.1" fill="#2a2ab8" stroke="none" stroke-width="0" />
<polygon points="193.3,774 195.3,781.4 191.3,781.4" fill="#2a2ab8" stroke="none" stroke-width="0" />
<line x1="178" y1="763.5" x2="196" y2="763.5" stroke="#2a2ab8" stroke-width="1.3" />
<line x1="178" y1="774" x2="196" y2="774" stroke="#2a2ab8" stroke-width="1.3" />
<text x="187" y="808.9" font-family="Liberation Serif" font-size="10" fill="#28289c" text-anchor="middle" font-weight="normal" transform="rotate(-90 187 805.5)" stroke="#28289c" stroke-width="0.25" >4x Ø 3.8</text>
<line x1="207.5" y1="752.25" x2="207.5" y2="820.5" stroke="#2a2ab8" stroke-width="1.45" />
<polygon points="207.5,759.3 205.5,751.9 209.5,751.9" fill="#2a2ab8" stroke="none" stroke-width="0" />
<polygon points="207.5,778.5 209.5,785.9 205.5,785.9" fill="#2a2ab8" stroke="none" stroke-width="0" />
<line x1="179.5" y1="759.3" x2="209.5" y2="759.3" stroke="#2a2ab8" stroke-width="1.3" />
<line x1="179.5" y1="778.5" x2="209.5" y2="778.5" stroke="#2a2ab8" stroke-width="1.3" />
<text x="200.8" y="808.9" font-family="Liberation Serif" font-size="10" fill="#28289c" text-anchor="middle" font-weight="normal" transform="rotate(-90 200.8 805.5)" stroke="#28289c" stroke-width="0.25" >4x Ø 7</text>
<line x1="221.2" y1="788.25" x2="221.2" y2="813" stroke="#2a2ab8" stroke-width="1.45" />
<polygon points="221.2,788.25 223.2,795.65 219.2,795.65" fill="#2a2ab8" stroke="none" stroke-width="0" />
<text x="214" y="809.65" font-family="Liberation Serif" font-size="10" fill="#28289c" text-anchor="middle" font-weight="normal" transform="rotate(-90 214 806.25)" stroke="#28289c" stroke-width="0.25" >1.4</text>
<line x1="175" y1="784.8" x2="223" y2="784.8" stroke="#2a2ab8" stroke-width="1.3" />
<line x1="122.5" y1="788.25" x2="243.25" y2="788.25" stroke="#2a2ab8" stroke-width="1.3" />
<rect x="310" y="275.6" width="161" height="512.4" rx="5" ry="5" stroke="#000" stroke-width="1.8" fill="none"/>
<rect x="320.4" y="290.4" width="140.2" height="323.6" rx="5" ry="5" stroke="#000" stroke-width="1.8" fill="none"/>
<line x1="390.6" y1="247" x2="390.6" y2="819" stroke="#dc3434" stroke-width="1" stroke-dasharray="19 1.5 4 1.5" />
<line x1="390.6" y1="221" x2="390.6" y2="248" stroke="#000" stroke-width="1.2" />
<line x1="390.6" y1="234.6" x2="423" y2="234.6" stroke="#000" stroke-width="1.1" />
<path d="M401.6,231 L390.6,234.6 L401.6,238.2" stroke="#000" stroke-width="1" fill="none" />
<text x="407.4" y="229.76" font-family="Liberation Sans" font-size="14" fill="#000" text-anchor="middle" font-weight="bold" transform="translate(407.4 225) scale(0.6 1) translate(-407.4 -225)" stroke="#000" stroke-width="0.5">A</text>
<line x1="390.3" y1="818.6" x2="390.3" y2="842.6" stroke="#000" stroke-width="1.2" />
<line x1="390.3" y1="829.1" x2="423.2" y2="829.1" stroke="#000" stroke-width="1.1" />
<path d="M401.3,825.5 L390.3,829.1 L401.3,832.7" stroke="#000" stroke-width="1" fill="none" />
<text x="406.7" y="824.26" font-family="Liberation Sans" font-size="14" fill="#000" text-anchor="middle" font-weight="bold" transform="translate(406.7 819.5) scale(0.6 1) translate(-406.7 -819.5)" stroke="#000" stroke-width="0.5">A</text>
<line x1="255.4" y1="531.9" x2="283" y2="531.9" stroke="#000" stroke-width="1.3" />
<line x1="498.7" y1="531.9" x2="525" y2="531.9" stroke="#000" stroke-width="1.3" />
<line x1="283" y1="531.9" x2="498.7" y2="531.9" stroke="#dc3434" stroke-width="1" stroke-dasharray="19 1.5 4 1.5" />
<line x1="268.9" y1="531.9" x2="268.9" y2="564.8" stroke="#000" stroke-width="1.1" />
<path d="M272.5,542.9 L268.9,531.9 L265.3,542.9" stroke="#000" stroke-width="1" fill="none" />
<line x1="511.6" y1="531.9" x2="511.6" y2="564.8" stroke="#000" stroke-width="1.1" />
<path d="M515.2,542.9 L511.6,531.9 L508,542.9" stroke="#000" stroke-width="1" fill="none" />
<text x="260.5" y="556.06" font-family="Liberation Sans" font-size="14" fill="#000" text-anchor="middle" font-weight="bold" transform="translate(260.5 551.3) scale(0.6 1) translate(-260.5 -551.3)" stroke="#000" stroke-width="0.5">B</text>
<text x="520.3" y="556.06" font-family="Liberation Sans" font-size="14" fill="#000" text-anchor="middle" font-weight="bold" transform="translate(520.3 551.3) scale(0.6 1) translate(-520.3 -551.3)" stroke="#000" stroke-width="0.5">B</text>
<line x1="285" y1="253.6" x2="310" y2="253.6" stroke="#2a2ab8" stroke-width="1.45" />
<polygon points="310,253.6 302.6,255.6 302.6,251.6" fill="#2a2ab8" stroke="none" stroke-width="0" />
<line x1="320.4" y1="253.6" x2="460.6" y2="253.6" stroke="#2a2ab8" stroke-width="1.45" />
<polygon points="320.4,253.6 327.8,251.6 327.8,255.6" fill="#2a2ab8" stroke="none" stroke-width="0" />
<polygon points="460.6,253.6 453.2,255.6 453.2,251.6" fill="#2a2ab8" stroke="none" stroke-width="0" />
<text x="292" y="250.8" font-family="Liberation Serif" font-size="10" fill="#28289c" text-anchor="middle" font-weight="normal" stroke="#28289c" stroke-width="0.25" >3.9</text>
<text x="390.6" y="250.8" font-family="Liberation Serif" font-size="10" fill="#28289c" text-anchor="middle" font-weight="normal" stroke="#28289c" stroke-width="0.25" >− 51.7 −</text>
<line x1="310" y1="252" x2="310" y2="279" stroke="#2a2ab8" stroke-width="1.3" />
<line x1="320.4" y1="251.6" x2="320.4" y2="291" stroke="#2a2ab8" stroke-width="1.3" />
<line x1="460.6" y1="251.6" x2="460.6" y2="291" stroke="#2a2ab8" stroke-width="1.3" />
<text x="276.4" y="271.4" font-family="Liberation Serif" font-size="10" fill="#28289c" text-anchor="middle" font-weight="normal" stroke="#28289c" stroke-width="0.25" >R 2</text>
<line x1="267.6" y1="274.2" x2="289" y2="274.2" stroke="#2a2ab8" stroke-width="1.3" />
<line x1="289" y1="274.2" x2="310.5" y2="279.3" stroke="#2a2ab8" stroke-width="1.3" />
<polygon points="311,279.4 303.34,279.64 304.26,275.75" fill="#2a2ab8" stroke="none" stroke-width="0" />
<text x="484" y="237" font-family="Liberation Serif" font-size="10" fill="#28289c" text-anchor="middle" font-weight="normal" stroke="#28289c" stroke-width="0.25" >R 2</text>
<line x1="471.6" y1="240" x2="492.6" y2="240" stroke="#2a2ab8" stroke-width="1.3" />
<line x1="471.6" y1="240" x2="467" y2="275.6" stroke="#2a2ab8" stroke-width="1.3" />
<polygon points="467,275.6 465.96,268 469.93,268.52" fill="#2a2ab8" stroke="none" stroke-width="0" />
<line x1="499" y1="246" x2="499" y2="614" stroke="#2a2ab8" stroke-width="1.45" />
<polygon points="499,275.6 497,268.2 501,268.2" fill="#2a2ab8" stroke="none" stroke-width="0" />
<polygon points="499,290.4 501,297.8 497,297.8" fill="#2a2ab8" stroke="none" stroke-width="0" />
<polygon points="499,614 497,606.6 501,606.6" fill="#2a2ab8" stroke="none" stroke-width="0" />
<text x="492.6" y="259.4" font-family="Liberation Serif" font-size="10" fill="#28289c" text-anchor="middle" font-weight="normal" transform="rotate(-90 492.6 256)" stroke="#28289c" stroke-width="0.25" >5.45</text>
<text x="492" y="455.4" font-family="Liberation Serif" font-size="10" fill="#28289c" text-anchor="middle" font-weight="normal" transform="rotate(-90 492 452)" stroke="#28289c" stroke-width="0.25" >119.2</text>
<line x1="471" y1="275.6" x2="542" y2="275.6" stroke="#2a2ab8" stroke-width="1.3" />
<line x1="460.6" y1="290.4" x2="501" y2="290.4" stroke="#2a2ab8" stroke-width="1.3" />
<line x1="457.6" y1="614" x2="501" y2="614" stroke="#2a2ab8" stroke-width="1.3" />
<line x1="540.6" y1="275.6" x2="540.6" y2="788" stroke="#2a2ab8" stroke-width="1.45" />
<polygon points="540.6,275.6 542.6,283 538.6,283" fill="#2a2ab8" stroke="none" stroke-width="0" />
<polygon points="540.6,788 538.6,780.6 542.6,780.6" fill="#2a2ab8" stroke="none" stroke-width="0" />
<text x="533.5" y="534.4" font-family="Liberation Serif" font-size="10" fill="#28289c" text-anchor="middle" font-weight="normal" transform="rotate(-90 533.5 531)" stroke="#28289c" stroke-width="0.25" >189</text>
<line x1="471" y1="788" x2="542" y2="788" stroke="#2a2ab8" stroke-width="1.3" />
<line x1="321.5" y1="292.2" x2="347" y2="314" stroke="#2a2ab8" stroke-width="1.3" />
<polygon points="321.5,292.2 328.42,295.49 325.83,298.53" fill="#2a2ab8" stroke="none" stroke-width="0" />
<text x="345" y="305.9" font-family="Liberation Serif" font-size="10" fill="#28289c" text-anchor="middle" font-weight="normal" transform="rotate(41 345 302.5)" stroke="#28289c" stroke-width="0.25" >R 2</text>
<line x1="459.5" y1="292.2" x2="432" y2="317.6" stroke="#2a2ab8" stroke-width="1.3" />
<polygon points="459.5,292.2 455.42,298.69 452.71,295.75" fill="#2a2ab8" stroke="none" stroke-width="0" />
<text x="433.5" y="308.9" font-family="Liberation Serif" font-size="10" fill="#28289c" text-anchor="middle" font-weight="normal" transform="rotate(-43 433.5 305.5)" stroke="#28289c" stroke-width="0.25" >R 2</text>
<line x1="321.3" y1="611" x2="349.8" y2="594.8" stroke="#2a2ab8" stroke-width="1.3" />
<polygon points="321.3,611 326.74,605.6 328.72,609.08" fill="#2a2ab8" stroke="none" stroke-width="0" />
<text x="338.7" y="595.2" font-family="Liberation Serif" font-size="10" fill="#28289c" text-anchor="middle" font-weight="normal" transform="rotate(-29 338.7 591.8)" stroke="#28289c" stroke-width="0.25" >R 2</text>
<line x1="459.7" y1="610.4" x2="429.8" y2="596.9" stroke="#2a2ab8" stroke-width="1.3" />
<polygon points="459.7,610.4 452.13,609.18 453.78,605.53" fill="#2a2ab8" stroke="none" stroke-width="0" />
<text x="441" y="596.9" font-family="Liberation Serif" font-size="10" fill="#28289c" text-anchor="middle" font-weight="normal" transform="rotate(24 441 593.5)" stroke="#28289c" stroke-width="0.25" >R 2</text>
<text x="289.9" y="813.9" font-family="Liberation Serif" font-size="10" fill="#28289c" text-anchor="middle" font-weight="normal" stroke="#28289c" stroke-width="0.25" >R 2</text>
<line x1="281.5" y1="817.1" x2="302.4" y2="817.1" stroke="#2a2ab8" stroke-width="1.3" />
<line x1="302.4" y1="817.1" x2="312" y2="788.5" stroke="#2a2ab8" stroke-width="1.3" />
<polygon points="312,788.5 311.54,796.15 307.75,794.88" fill="#2a2ab8" stroke="none" stroke-width="0" />
<text x="490.6" y="813.9" font-family="Liberation Serif" font-size="10" fill="#28289c" text-anchor="middle" font-weight="normal" stroke="#28289c" stroke-width="0.25" >R 2</text>
<line x1="479.2" y1="817.1" x2="499.6" y2="817.1" stroke="#2a2ab8" stroke-width="1.3" />
<line x1="479.2" y1="817.1" x2="468.7" y2="788.5" stroke="#2a2ab8" stroke-width="1.3" />
<polygon points="468.7,788.5 473.13,794.76 469.37,796.14" fill="#2a2ab8" stroke="none" stroke-width="0" />
<line x1="309.8" y1="817.1" x2="471.1" y2="817.1" stroke="#2a2ab8" stroke-width="1.45" />
<polygon points="309.8,817.1 317.2,815.1 317.2,819.1" fill="#2a2ab8" stroke="none" stroke-width="0" />
<polygon points="471.1,817.1 463.7,819.1 463.7,815.1" fill="#2a2ab8" stroke="none" stroke-width="0" />
<text x="390.2" y="813.9" font-family="Liberation Serif" font-size="10" fill="#28289c" text-anchor="middle" font-weight="normal" stroke="#28289c" stroke-width="0.25" >59.5</text>
<line x1="309.8" y1="788" x2="309.8" y2="818.6" stroke="#2a2ab8" stroke-width="1.3" />
<line x1="471.1" y1="788" x2="471.1" y2="818.6" stroke="#2a2ab8" stroke-width="1.3" />
<path d="M312.4,905.5 Q312.7,900.6 317.5,900.6 L463.5,900.6 Q468.4,900.6 468.8,905.5 L471,955.6" stroke="#333" stroke-width="1.1" fill="none" />
<path d="M310.25,955.6 L312.4,905.5" stroke="#333" stroke-width="1.1" fill="none" />
<path d="M310.25,955.6 L313.2,1000 Q313.6,1005 318.5,1005 L463,1005 Q467.8,1005 468.2,1000 L471,955.6" stroke="#000" stroke-width="2" fill="none" />
<line x1="310.25" y1="955.6" x2="471" y2="955.6" stroke="#000" stroke-width="2.2" />
<line x1="309.9" y1="898.4" x2="309.9" y2="1005.6" stroke="#000" stroke-width="1.9" />
<line x1="471.2" y1="898.4" x2="471.2" y2="1005.6" stroke="#000" stroke-width="1.9" />
<line x1="390.7" y1="893" x2="390.7" y2="1013" stroke="#dc3434" stroke-width="1" stroke-dasharray="10 2 3 2" />
<text x="297" y="882.1" font-family="Liberation Serif" font-size="10" fill="#28289c" text-anchor="middle" font-weight="normal" stroke="#28289c" stroke-width="0.25" >R 2</text>
<line x1="288" y1="884.9" x2="309" y2="884.9" stroke="#2a2ab8" stroke-width="1.3" />
<line x1="309" y1="884.9" x2="315.9" y2="899.7" stroke="#2a2ab8" stroke-width="1.3" />
<polygon points="315.9,899.7 310.96,893.84 314.59,892.15" fill="#2a2ab8" stroke="none" stroke-width="0" />
<text x="484" y="882.1" font-family="Liberation Serif" font-size="10" fill="#28289c" text-anchor="middle" font-weight="normal" stroke="#28289c" stroke-width="0.25" >R 2</text>
<line x1="471.9" y1="884.9" x2="492.9" y2="884.9" stroke="#2a2ab8" stroke-width="1.3" />
<line x1="471.9" y1="884.9" x2="465.3" y2="900.2" stroke="#2a2ab8" stroke-width="1.3" />
<polygon points="465.3,900.2 466.39,892.61 470.07,894.2" fill="#2a2ab8" stroke="none" stroke-width="0" />
<text x="290" y="1018" font-family="Liberation Serif" font-size="10" fill="#28289c" text-anchor="middle" font-weight="normal" stroke="#28289c" stroke-width="0.25" >R 2</text>
<line x1="281" y1="1020.6" x2="302.2" y2="1020.6" stroke="#2a2ab8" stroke-width="1.3" />
<line x1="302.2" y1="1020.6" x2="313.4" y2="1004.7" stroke="#2a2ab8" stroke-width="1.3" />
<polygon points="313.4,1004.7 310.77,1011.9 307.5,1009.6" fill="#2a2ab8" stroke="none" stroke-width="0" />
<text x="491" y="1018" font-family="Liberation Serif" font-size="10" fill="#28289c" text-anchor="middle" font-weight="normal" stroke="#28289c" stroke-width="0.25" >R 2</text>
<line x1="478.4" y1="1020.6" x2="499.6" y2="1020.6" stroke="#2a2ab8" stroke-width="1.3" />
<line x1="478.4" y1="1020.6" x2="467.2" y2="1004.7" stroke="#2a2ab8" stroke-width="1.3" />
<polygon points="467.2,1004.7 473.1,1009.6 469.83,1011.9" fill="#2a2ab8" stroke="none" stroke-width="0" />
<line x1="309.7" y1="1027.2" x2="471.5" y2="1027.2" stroke="#2a2ab8" stroke-width="1.45" />
<polygon points="309.7,1027.2 317.1,1025.2 317.1,1029.2" fill="#2a2ab8" stroke="none" stroke-width="0" />
<polygon points="471.5,1027.2 464.1,1029.2 464.1,1025.2" fill="#2a2ab8" stroke="none" stroke-width="0" />
<text x="390.3" y="1024.4" font-family="Liberation Serif" font-size="10" fill="#28289c" text-anchor="middle" font-weight="normal" stroke="#28289c" stroke-width="0.25" >59.5</text>
<line x1="309.7" y1="1005.6" x2="309.7" y2="1029" stroke="#2a2ab8" stroke-width="1.3" />
<line x1="471.5" y1="1005.6" x2="471.5" y2="1029" stroke="#2a2ab8" stroke-width="1.3" />
<line x1="512.75" y1="900.6" x2="512.75" y2="1005" stroke="#2a2ab8" stroke-width="1.45" />
<polygon points="512.75,900.6 514.75,908 510.75,908" fill="#2a2ab8" stroke="none" stroke-width="0" />
<polygon points="512.75,1005 510.75,997.6 514.75,997.6" fill="#2a2ab8" stroke="none" stroke-width="0" />
<text x="506" y="956.15" font-family="Liberation Serif" font-size="10" fill="#28289c" text-anchor="middle" font-weight="normal" transform="rotate(-90 506 952.75)" stroke="#28289c" stroke-width="0.25" >38.4</text>
<line x1="492.1" y1="955.6" x2="492.1" y2="1005" stroke="#2a2ab8" stroke-width="1.45" />
<polygon points="492.1,955.6 494.1,963 490.1,963" fill="#2a2ab8" stroke="none" stroke-width="0" />
<polygon points="492.1,1005 490.1,997.6 494.1,997.6" fill="#2a2ab8" stroke="none" stroke-width="0" />
<text x="485" y="983.7" font-family="Liberation Serif" font-size="10" fill="#28289c" text-anchor="middle" font-weight="normal" transform="rotate(-90 485 980.3)" stroke="#28289c" stroke-width="0.25" >18.1</text>
<line x1="492.1" y1="929.7" x2="492.1" y2="955.6" stroke="#2a2ab8" stroke-width="1.45" />
<polygon points="492.1,954.6 490.1,947.2 494.1,947.2" fill="#2a2ab8" stroke="none" stroke-width="0" />
<text x="485" y="940.6" font-family="Liberation Serif" font-size="10" fill="#28289c" text-anchor="middle" font-weight="normal" transform="rotate(-90 485 937.2)" stroke="#28289c" stroke-width="0.25" >0.4</text>
<line x1="471" y1="900.6" x2="515" y2="900.6" stroke="#2a2ab8" stroke-width="1.3" />
<line x1="471" y1="955.6" x2="494.5" y2="955.6" stroke="#2a2ab8" stroke-width="1.6" />
<line x1="468" y1="1005" x2="515" y2="1005" stroke="#2a2ab8" stroke-width="1.3" />
<path d="M289,911.3 Q299,906.8 308.7,906.2" stroke="#2a2ab8" stroke-width="1.45" fill="none" />
<polygon points="309.7,906.2 303.81,908.5 303.61,904.5" fill="#2a2ab8" stroke="none" stroke-width="0" />
<line x1="313" y1="906.8" x2="319.5" y2="907.8" stroke="#2a2ab8" stroke-width="1.45" />
<polygon points="312.8,906.6 319.03,905.51 318.44,909.47" fill="#2a2ab8" stroke="none" stroke-width="0" />
<text x="291" y="906.8" font-family="Liberation Serif" font-size="10" fill="#28289c" text-anchor="middle" font-weight="normal" transform="rotate(-25 291 903.4)" stroke="#28289c" stroke-width="0.25" >3°</text>
<path d="M491.6,916.6 Q482,911.5 472.8,911" stroke="#2a2ab8" stroke-width="1.45" fill="none" />
<polygon points="471.6,911 477.6,909 477.6,913" fill="#2a2ab8" stroke="none" stroke-width="0" />
<line x1="462" y1="911.3" x2="468.4" y2="911.3" stroke="#2a2ab8" stroke-width="1.45" />
<polygon points="468.6,911.3 462.6,913.3 462.6,909.3" fill="#2a2ab8" stroke="none" stroke-width="0" />
<text x="489.7" y="911.4" font-family="Liberation Serif" font-size="10" fill="#28289c" text-anchor="middle" font-weight="normal" transform="rotate(20 489.7 908)" stroke="#28289c" stroke-width="0.25" >3°</text>
<path d="M288,989.7 Q298,994.5 308.7,995.7" stroke="#2a2ab8" stroke-width="1.45" fill="none" />
<polygon points="309.7,995.9 303.53,997.29 303.93,993.31" fill="#2a2ab8" stroke="none" stroke-width="0" />
<line x1="312.7" y1="996" x2="319" y2="996" stroke="#2a2ab8" stroke-width="1.45" />
<polygon points="312.7,996 318.7,994 318.7,998" fill="#2a2ab8" stroke="none" stroke-width="0" />
<text x="297.5" y="988.8" font-family="Liberation Serif" font-size="10" fill="#28289c" text-anchor="middle" font-weight="normal" transform="rotate(15 297.5 985.4)" stroke="#28289c" stroke-width="0.25" >3°</text>
<path d="M447.5,990.25 Q457,996.5 467.5,997.8" stroke="#2a2ab8" stroke-width="1.45" fill="none" />
<polygon points="468.7,998 462.53,999.39 462.93,995.41" fill="#2a2ab8" stroke="none" stroke-width="0" />
<line x1="471.5" y1="998" x2="478" y2="998" stroke="#2a2ab8" stroke-width="1.45" />
<polygon points="471.3,998 477.3,996 477.3,1000" fill="#2a2ab8" stroke="none" stroke-width="0" />
<text x="456.9" y="989.4" font-family="Liberation Serif" font-size="10" fill="#28289c" text-anchor="middle" font-weight="normal" transform="rotate(20 456.9 986)" stroke="#28289c" stroke-width="0.25" >3°</text>
<path d="M616.5,783 L616.5,282 Q616.5,277.5 621,277.1 L670.6,275.4" stroke="#333" stroke-width="1.1" fill="none" />
<path d="M670.6,275.4 L716.5,277.1 Q720.9,277.5 720.9,282 L720.9,783 Q720.9,787 717,787.2 L670.6,788.6" stroke="#000" stroke-width="1.7" fill="none" />
<path d="M616.5,783 Q616.5,787 620.5,787.2 L670.6,788.6" stroke="#111" stroke-width="1.5" fill="none" />
<line x1="670.6" y1="248" x2="670.6" y2="820" stroke="#dc3434" stroke-width="1" stroke-dasharray="19 1.5 4 1.5" />
<line x1="670.2" y1="275.4" x2="670.2" y2="788.6" stroke="#c22" stroke-width="2.2" />
<line x1="670.7" y1="275.4" x2="670.7" y2="788.6" stroke="#1a0000" stroke-width="1.3" />
<line x1="625" y1="276.4" x2="716" y2="276.4" stroke="#222" stroke-width="0.8" stroke-dasharray="10 3" />
<line x1="625" y1="788.3" x2="716" y2="788.3" stroke="#222" stroke-width="0.8" stroke-dasharray="10 3" />
<line x1="670.4" y1="221" x2="670.4" y2="275" stroke="#000" stroke-width="1.2" />
<line x1="670.4" y1="234.5" x2="703.4" y2="234.5" stroke="#000" stroke-width="1.1" />
<path d="M681.4,230.9 L670.4,234.5 L681.4,238.1" stroke="#000" stroke-width="1" fill="none" />
<text x="687.5" y="228.76" font-family="Liberation Sans" font-size="14" fill="#000" text-anchor="middle" font-weight="bold" transform="translate(687.5 224) scale(0.6 1) translate(-687.5 -224)" stroke="#000" stroke-width="0.5">D</text>
<line x1="670.7" y1="818" x2="670.7" y2="842.8" stroke="#000" stroke-width="1.2" />
<line x1="670.7" y1="829.3" x2="703.2" y2="829.3" stroke="#000" stroke-width="1.1" />
<path d="M681.7,825.7 L670.7,829.3 L681.7,832.9" stroke="#000" stroke-width="1" fill="none" />
<text x="687.4" y="823.26" font-family="Liberation Sans" font-size="14" fill="#000" text-anchor="middle" font-weight="bold" transform="translate(687.4 818.5) scale(0.6 1) translate(-687.4 -818.5)" stroke="#000" stroke-width="0.5">D</text>
<text x="595.5" y="264.2" font-family="Liberation Serif" font-size="10" fill="#28289c" text-anchor="middle" font-weight="normal" stroke="#28289c" stroke-width="0.25" >R 2</text>
<line x1="586.5" y1="266.5" x2="607.5" y2="266.5" stroke="#2a2ab8" stroke-width="1.3" />
<line x1="607.5" y1="266.5" x2="618" y2="279.4" stroke="#2a2ab8" stroke-width="1.3" />
<polygon points="618,279.4 611.78,274.92 614.88,272.4" fill="#2a2ab8" stroke="none" stroke-width="0" />
<text x="743.8" y="265.7" font-family="Liberation Serif" font-size="10" fill="#28289c" text-anchor="middle" font-weight="normal" stroke="#28289c" stroke-width="0.25" >R 2</text>
<line x1="731.8" y1="268.3" x2="752.8" y2="268.3" stroke="#2a2ab8" stroke-width="1.3" />
<line x1="731.8" y1="268.3" x2="719.9" y2="279.4" stroke="#2a2ab8" stroke-width="1.3" />
<polygon points="719.9,279.4 723.95,272.89 726.68,275.81" fill="#2a2ab8" stroke="none" stroke-width="0" />
<path d="M627.8,254.8 Q623.6,264 623.4,274" stroke="#2a2ab8" stroke-width="1.45" fill="none" />
<polygon points="623.4,275.8 621.4,269.8 625.4,269.8" fill="#2a2ab8" stroke="none" stroke-width="0" />
<line x1="623.4" y1="278" x2="623.4" y2="285" stroke="#2a2ab8" stroke-width="1.3" />
<polygon points="623.4,277.8 625.4,283.8 621.4,283.8" fill="#2a2ab8" stroke="none" stroke-width="0" />
<text x="620.4" y="260.4" font-family="Liberation Serif" font-size="10" fill="#28289c" text-anchor="middle" font-weight="normal" transform="rotate(-72 620.4 257)" stroke="#28289c" stroke-width="0.25" >3°</text>
<path d="M708.8,254.8 Q713.7,264 713.9,274" stroke="#2a2ab8" stroke-width="1.45" fill="none" />
<polygon points="713.9,275.8 711.9,269.8 715.9,269.8" fill="#2a2ab8" stroke="none" stroke-width="0" />
<line x1="713.9" y1="278" x2="713.9" y2="285" stroke="#2a2ab8" stroke-width="1.3" />
<polygon points="713.9,277.8 715.9,283.8 711.9,283.8" fill="#2a2ab8" stroke="none" stroke-width="0" />
<text x="716.6" y="259.7" font-family="Liberation Serif" font-size="10" fill="#28289c" text-anchor="middle" font-weight="normal" transform="rotate(72 716.6 256.3)" stroke="#28289c" stroke-width="0.25" >3°</text>
<line x1="721" y1="275.3" x2="752.8" y2="275.3" stroke="#2a2ab8" stroke-width="1.3" />
<line x1="749.8" y1="275.3" x2="749.8" y2="788.4" stroke="#2a2ab8" stroke-width="1.45" />
<polygon points="749.8,275.3 751.8,282.7 747.8,282.7" fill="#2a2ab8" stroke="none" stroke-width="0" />
<polygon points="749.8,788.4 747.8,781 751.8,781" fill="#2a2ab8" stroke="none" stroke-width="0" />
<text x="743" y="534.4" font-family="Liberation Serif" font-size="10" fill="#28289c" text-anchor="middle" font-weight="normal" transform="rotate(-90 743 531)" stroke="#28289c" stroke-width="0.25" >189</text>
<path d="M608.9,764.2 Q604.8,774 604.6,783.5" stroke="#2a2ab8" stroke-width="1.45" fill="none" />
<polygon points="604.6,785.6 602.6,779.6 606.6,779.6" fill="#2a2ab8" stroke="none" stroke-width="0" />
<line x1="604.6" y1="788.4" x2="604.6" y2="795.5" stroke="#2a2ab8" stroke-width="1.3" />
<polygon points="604.6,788.4 606.6,794.4 602.6,794.4" fill="#2a2ab8" stroke="none" stroke-width="0" />
<text x="600.6" y="770.8" font-family="Liberation Serif" font-size="10" fill="#28289c" text-anchor="middle" font-weight="normal" transform="rotate(-72 600.6 767.4)" stroke="#28289c" stroke-width="0.25" >3°</text>
<path d="M730.2,764.2 Q734,774 734.2,783.5" stroke="#2a2ab8" stroke-width="1.45" fill="none" />
<polygon points="734.2,785.6 732.2,779.6 736.2,779.6" fill="#2a2ab8" stroke="none" stroke-width="0" />
<line x1="734.2" y1="788.4" x2="734.2" y2="795.5" stroke="#2a2ab8" stroke-width="1.3" />
<polygon points="734.2,788.4 736.2,794.4 732.2,794.4" fill="#2a2ab8" stroke="none" stroke-width="0" />
<text x="737.7" y="770.8" font-family="Liberation Serif" font-size="10" fill="#28289c" text-anchor="middle" font-weight="normal" transform="rotate(72 737.7 767.4)" stroke="#28289c" stroke-width="0.25" >3°</text>
<line x1="602.5" y1="785.6" x2="617.5" y2="785.6" stroke="#2a2ab8" stroke-width="1.3" />
<line x1="720" y1="785.6" x2="736.5" y2="785.6" stroke="#2a2ab8" stroke-width="1.3" />
<line x1="602.5" y1="788.4" x2="616" y2="788.4" stroke="#2a2ab8" stroke-width="1.3" />
<line x1="721" y1="788.4" x2="751.6" y2="788.4" stroke="#2a2ab8" stroke-width="1.3" />
<text x="595.4" y="807.8" font-family="Liberation Serif" font-size="10" fill="#28289c" text-anchor="middle" font-weight="normal" stroke="#28289c" stroke-width="0.25" >R 2</text>
<line x1="586.7" y1="809.8" x2="608" y2="809.8" stroke="#2a2ab8" stroke-width="1.3" />
<line x1="608" y1="809.8" x2="617.3" y2="788.8" stroke="#2a2ab8" stroke-width="1.3" />
<polygon points="617.3,788.8 616.13,796.38 612.47,794.76" fill="#2a2ab8" stroke="none" stroke-width="0" />
<text x="742.1" y="807.8" font-family="Liberation Serif" font-size="10" fill="#28289c" text-anchor="middle" font-weight="normal" stroke="#28289c" stroke-width="0.25" >R 2</text>
<line x1="729.4" y1="809.8" x2="750.8" y2="809.8" stroke="#2a2ab8" stroke-width="1.3" />
<line x1="729.4" y1="809.8" x2="720.4" y2="789.6" stroke="#2a2ab8" stroke-width="1.3" />
<polygon points="720.4,789.6 725.24,795.55 721.58,797.17" fill="#2a2ab8" stroke="none" stroke-width="0" />
<line x1="616.5" y1="817.4" x2="671" y2="817.4" stroke="#2a2ab8" stroke-width="1.45" />
<polygon points="616.5,817.4 623.9,815.4 623.9,819.4" fill="#2a2ab8" stroke="none" stroke-width="0" />
<polygon points="671,817.4 663.6,819.4 663.6,815.4" fill="#2a2ab8" stroke="none" stroke-width="0" />
<text x="643.3" y="814" font-family="Liberation Serif" font-size="10" fill="#28289c" text-anchor="middle" font-weight="normal" stroke="#28289c" stroke-width="0.25" >19.9</text>
<line x1="671" y1="817.4" x2="721" y2="817.4" stroke="#2a2ab8" stroke-width="1.45" />
<polygon points="671,817.4 678.4,815.4 678.4,819.4" fill="#2a2ab8" stroke="none" stroke-width="0" />
<polygon points="721,817.4 713.6,819.4 713.6,815.4" fill="#2a2ab8" stroke="none" stroke-width="0" />
<text x="696.1" y="814" font-family="Liberation Serif" font-size="10" fill="#28289c" text-anchor="middle" font-weight="normal" stroke="#28289c" stroke-width="0.25" >18.1</text>
<line x1="616.5" y1="857.8" x2="721" y2="857.8" stroke="#2a2ab8" stroke-width="1.45" />
<polygon points="616.5,857.8 623.9,855.8 623.9,859.8" fill="#2a2ab8" stroke="none" stroke-width="0" />
<polygon points="721,857.8 713.6,859.8 713.6,855.8" fill="#2a2ab8" stroke="none" stroke-width="0" />
<text x="668.3" y="854.9" font-family="Liberation Serif" font-size="10" fill="#28289c" text-anchor="middle" font-weight="normal" stroke="#28289c" stroke-width="0.25" >38.4</text>
<line x1="616.5" y1="788.8" x2="616.5" y2="859.4" stroke="#2a2ab8" stroke-width="1.3" />
<line x1="721" y1="788.8" x2="721" y2="859.4" stroke="#2a2ab8" stroke-width="1.3" />
<line x1="671" y1="789" x2="671" y2="818" stroke="#5522aa" stroke-width="1.2" />
<rect x="811.3" y="275.4" width="162.2" height="513.1" rx="5.2" ry="5.2" stroke="#3a3a3a" stroke-width="1.4" fill="none"/>
<line x1="892.7" y1="275.4" x2="892.7" y2="788.5" stroke="#dc3434" stroke-width="1" stroke-dasharray="19 1.5 4 1.5" />
<circle cx="831.5" cy="373.7" r="9.5" stroke="#000" stroke-width="1.1" fill="none"/>
<circle cx="831.5" cy="373.7" r="5.1" stroke="#000" stroke-width="1.1" fill="none"/>
<circle cx="831.5" cy="373.7" r="3.2" stroke="#000" stroke-width="1.1" fill="none"/>
<circle cx="831.5" cy="373.7" r="2.6" stroke="none" stroke-width="0" fill="#e66"/>
<line x1="816.5" y1="373.7" x2="846.5" y2="373.7" stroke="#dc3434" stroke-width="1.1" />
<line x1="831.5" y1="358.7" x2="831.5" y2="388.7" stroke="#dc3434" stroke-width="1.1" />
<circle cx="831.5" cy="768.8" r="9.5" stroke="#000" stroke-width="1.1" fill="none"/>
<circle cx="831.5" cy="768.8" r="5.1" stroke="#000" stroke-width="1.1" fill="none"/>
<circle cx="831.5" cy="768.8" r="3.2" stroke="#000" stroke-width="1.1" fill="none"/>
<circle cx="831.5" cy="768.8" r="2.6" stroke="none" stroke-width="0" fill="#e66"/>
<line x1="816.5" y1="768.8" x2="846.5" y2="768.8" stroke="#dc3434" stroke-width="1.1" />
<line x1="831.5" y1="753.8" x2="831.5" y2="783.8" stroke="#dc3434" stroke-width="1.1" />
<circle cx="953.3" cy="373.7" r="9.5" stroke="#000" stroke-width="1.1" fill="none"/>
<circle cx="953.3" cy="373.7" r="5.1" stroke="#000" stroke-width="1.1" fill="none"/>
<circle cx="953.3" cy="373.7" r="3.2" stroke="#000" stroke-width="1.1" fill="none"/>
<circle cx="953.3" cy="373.7" r="2.6" stroke="none" stroke-width="0" fill="#e66"/>
<line x1="938.3" y1="373.7" x2="968.3" y2="373.7" stroke="#dc3434" stroke-width="1.1" />
<line x1="953.3" y1="358.7" x2="953.3" y2="388.7" stroke="#dc3434" stroke-width="1.1" />
<circle cx="953.3" cy="768.8" r="9.5" stroke="#000" stroke-width="1.1" fill="none"/>
<circle cx="953.3" cy="768.8" r="5.1" stroke="#000" stroke-width="1.1" fill="none"/>
<circle cx="953.3" cy="768.8" r="3.2" stroke="#000" stroke-width="1.1" fill="none"/>
<circle cx="953.3" cy="768.8" r="2.6" stroke="none" stroke-width="0" fill="#e66"/>
<line x1="938.3" y1="768.8" x2="968.3" y2="768.8" stroke="#dc3434" stroke-width="1.1" />
<line x1="953.3" y1="753.8" x2="953.3" y2="783.8" stroke="#dc3434" stroke-width="1.1" />
<text x="870" y="316.7" font-family="Liberation Serif" font-size="10" fill="#28289c" text-anchor="middle" font-weight="normal" stroke="#28289c" stroke-width="0.25" >4x Ø 7</text>
<line x1="850.6" y1="319" x2="884.2" y2="319" stroke="#2a2ab8" stroke-width="1.3" />
<line x1="850.6" y1="319" x2="835.2" y2="366" stroke="#2a2ab8" stroke-width="1.3" />
<polygon points="835.2,366 835.6,358.35 839.4,359.59" fill="#2a2ab8" stroke="none" stroke-width="0" />
<text x="873.3" y="334.8" font-family="Liberation Serif" font-size="10" fill="#28289c" text-anchor="middle" font-weight="normal" stroke="#28289c" stroke-width="0.25" >4x Ø 3.8</text>
<line x1="851.4" y1="337.9" x2="893.2" y2="337.9" stroke="#2a2ab8" stroke-width="1.3" />
<line x1="851.4" y1="337.9" x2="835" y2="369.3" stroke="#2a2ab8" stroke-width="1.3" />
<polygon points="835,369.3 836.65,361.81 840.2,363.67" fill="#2a2ab8" stroke="none" stroke-width="0" />
<text x="877.9" y="352.5" font-family="Liberation Serif" font-size="10" fill="#28289c" text-anchor="middle" font-weight="normal" stroke="#28289c" stroke-width="0.25" >4x Ø 2.4</text>
<line x1="856.3" y1="355.1" x2="897.3" y2="355.1" stroke="#2a2ab8" stroke-width="1.3" />
<line x1="856.3" y1="355.1" x2="833.7" y2="371.5" stroke="#2a2ab8" stroke-width="1.3" />
<polygon points="833.7,371.5 838.51,365.54 840.86,368.77" fill="#2a2ab8" stroke="none" stroke-width="0" />
<line x1="971.6" y1="275.4" x2="1009.8" y2="275.4" stroke="#2a2ab8" stroke-width="1.3" />
<line x1="1007.6" y1="275.4" x2="1007.6" y2="788.5" stroke="#2a2ab8" stroke-width="1.45" />
<polygon points="1007.6,275.4 1009.6,282.8 1005.6,282.8" fill="#2a2ab8" stroke="none" stroke-width="0" />
<polygon points="1007.6,788.5 1005.6,781.1 1009.6,781.1" fill="#2a2ab8" stroke="none" stroke-width="0" />
<text x="1001" y="534.4" font-family="Liberation Serif" font-size="10" fill="#28289c" text-anchor="middle" font-weight="normal" transform="rotate(-90 1001 531)" stroke="#28289c" stroke-width="0.25" >189</text>
<line x1="971.6" y1="373.7" x2="996" y2="373.7" stroke="#2a2ab8" stroke-width="1.3" />
<line x1="994.2" y1="373.7" x2="994.2" y2="768.8" stroke="#2a2ab8" stroke-width="1.45" />
<polygon points="994.2,373.7 996.2,381.1 992.2,381.1" fill="#2a2ab8" stroke="none" stroke-width="0" />
<polygon points="994.2,768.8 992.2,761.4 996.2,761.4" fill="#2a2ab8" stroke="none" stroke-width="0" />
<text x="988" y="574.8" font-family="Liberation Serif" font-size="10" fill="#28289c" text-anchor="middle" font-weight="normal" transform="rotate(-90 988 571.4)" stroke="#28289c" stroke-width="0.25" >145.5</text>
<line x1="994.2" y1="768.8" x2="994.2" y2="788.5" stroke="#2a2ab8" stroke-width="1.45" />
<polygon points="994.2,788.5 992.2,782 996.2,782" fill="#2a2ab8" stroke="none" stroke-width="0" />
<polygon points="994.2,768.8 996.2,775.3 992.2,775.3" fill="#2a2ab8" stroke="none" stroke-width="0" />
<text x="988" y="781.73" font-family="Liberation Serif" font-size="9.5" fill="#28289c" text-anchor="middle" font-weight="normal" transform="rotate(-90 988 778.5)" stroke="#28289c" stroke-width="0.25" >7.25</text>
<line x1="971.6" y1="768.8" x2="996" y2="768.8" stroke="#2a2ab8" stroke-width="1.3" />
<line x1="971.6" y1="788.5" x2="1009.8" y2="788.5" stroke="#2a2ab8" stroke-width="1.3" />
<line x1="831.5" y1="803.5" x2="953.3" y2="803.5" stroke="#2a2ab8" stroke-width="1.45" />
<polygon points="831.5,803.5 838.9,801.5 838.9,805.5" fill="#2a2ab8" stroke="none" stroke-width="0" />
<polygon points="953.3,803.5 945.9,805.5 945.9,801.5" fill="#2a2ab8" stroke="none" stroke-width="0" />
<text x="892.4" y="800.1" font-family="Liberation Serif" font-size="10" fill="#28289c" text-anchor="middle" font-weight="normal" stroke="#28289c" stroke-width="0.25" >45</text>
<line x1="953.3" y1="803.5" x2="980.3" y2="803.5" stroke="#2a2ab8" stroke-width="1.45" />
<polygon points="973.5,803.5 980.9,801.5 980.9,805.5" fill="#2a2ab8" stroke="none" stroke-width="0" />
<text x="963.4" y="799.93" font-family="Liberation Serif" font-size="9.5" fill="#28289c" text-anchor="middle" font-weight="normal" stroke="#28289c" stroke-width="0.25" >7.25</text>
<line x1="811.3" y1="817.1" x2="973.5" y2="817.1" stroke="#2a2ab8" stroke-width="1.45" />
<polygon points="811.3,817.1 818.7,815.1 818.7,819.1" fill="#2a2ab8" stroke="none" stroke-width="0" />
<polygon points="973.5,817.1 966.1,819.1 966.1,815.1" fill="#2a2ab8" stroke="none" stroke-width="0" />
<text x="892.4" y="813.7" font-family="Liberation Serif" font-size="10" fill="#28289c" text-anchor="middle" font-weight="normal" stroke="#28289c" stroke-width="0.25" >59.5</text>
<line x1="811.3" y1="784.5" x2="811.3" y2="818.6" stroke="#2a2ab8" stroke-width="1.3" />
<line x1="973.5" y1="784.5" x2="973.5" y2="818.6" stroke="#2a2ab8" stroke-width="1.3" />
<line x1="831.5" y1="785.8" x2="831.5" y2="805" stroke="#2a2ab8" stroke-width="1.3" />
<line x1="953.3" y1="785.8" x2="953.3" y2="805" stroke="#2a2ab8" stroke-width="1.3" />
<text x="1157" y="86.19" font-family="Liberation Serif" font-size="13.5" fill="#111" text-anchor="middle" font-weight="normal" >C - C</text>
<rect x="1076.7" y="99.3" width="161.5" height="511.6" rx="4.5" ry="4.5" stroke="#000" stroke-width="2" fill="none"/>
<rect x="1081.6" y="103.8" width="151.8" height="502.6" rx="3" ry="3" stroke="#000" stroke-width="1.3" fill="none"/>
<rect x="1083" y="105.4" width="149" height="499.5" rx="2" ry="2" stroke="#555" stroke-width="1" fill="none"/>
<rect x="1083" y="105.4" width="149" height="499.5" fill="none" stroke="#fff" stroke-width="1" stroke-dasharray="3.5 2.5"/>
<rect x="1084.6" y="107.2" width="146" height="496" fill="none" stroke="#000" stroke-width="2"/>
<line x1="1084.6" y1="180.3" x2="1230.6" y2="180.3" stroke="#000" stroke-width="1.6" />
<line x1="1082.5" y1="185.3" x2="1232.5" y2="185.3" stroke="#000" stroke-width="1.2" />
<line x1="1157" y1="99.3" x2="1157" y2="611" stroke="#dc3434" stroke-width="1" stroke-dasharray="19 1.5 4 1.5" />
<circle cx="1095.9" cy="197.2" r="8.8" stroke="#000" stroke-width="1.35" fill="none"/>
<circle cx="1095.9" cy="197.2" r="3.2" stroke="#000" stroke-width="1.35" fill="none"/>
<line x1="1081.9" y1="197.2" x2="1109.9" y2="197.2" stroke="#dc3434" stroke-width="1.1" />
<line x1="1095.9" y1="183.2" x2="1095.9" y2="211.2" stroke="#dc3434" stroke-width="1.1" />
<circle cx="1095.9" cy="592" r="8.8" stroke="#000" stroke-width="1.35" fill="none"/>
<circle cx="1095.9" cy="592" r="3.2" stroke="#000" stroke-width="1.35" fill="none"/>
<line x1="1081.9" y1="592" x2="1109.9" y2="592" stroke="#dc3434" stroke-width="1.1" />
<line x1="1095.9" y1="578" x2="1095.9" y2="606" stroke="#dc3434" stroke-width="1.1" />
<circle cx="1217.9" cy="197.2" r="8.8" stroke="#000" stroke-width="1.35" fill="none"/>
<circle cx="1217.9" cy="197.2" r="3.2" stroke="#000" stroke-width="1.35" fill="none"/>
<line x1="1203.9" y1="197.2" x2="1231.9" y2="197.2" stroke="#dc3434" stroke-width="1.1" />
<line x1="1217.9" y1="183.2" x2="1217.9" y2="211.2" stroke="#dc3434" stroke-width="1.1" />
<circle cx="1217.9" cy="592" r="8.8" stroke="#000" stroke-width="1.35" fill="none"/>
<circle cx="1217.9" cy="592" r="3.2" stroke="#000" stroke-width="1.35" fill="none"/>
<line x1="1203.9" y1="592" x2="1231.9" y2="592" stroke="#dc3434" stroke-width="1.1" />
<line x1="1217.9" y1="578" x2="1217.9" y2="606" stroke="#dc3434" stroke-width="1.1" />
<text x="1060" y="80.53" font-family="Liberation Serif" font-size="9.5" fill="#28289c" text-anchor="middle" font-weight="normal" stroke="#28289c" stroke-width="0.25" >R 1.6</text>
<line x1="1047.4" y1="83.8" x2="1075.6" y2="83.8" stroke="#2a2ab8" stroke-width="1.3" />
<line x1="1075.6" y1="83.8" x2="1082.6" y2="102.2" stroke="#2a2ab8" stroke-width="1.3" />
<polygon points="1082.6,102.2 1078.1,95.99 1081.84,94.57" fill="#2a2ab8" stroke="none" stroke-width="0" />
<line x1="1055" y1="99.3" x2="1055" y2="185.3" stroke="#2a2ab8" stroke-width="1.45" />
<polygon points="1055,99.3 1057,106.7 1053,106.7" fill="#2a2ab8" stroke="none" stroke-width="0" />
<polygon points="1055,185.3 1053,177.9 1057,177.9" fill="#2a2ab8" stroke="none" stroke-width="0" />
<text x="1048.5" y="145.26" font-family="Liberation Serif" font-size="9" fill="#28289c" text-anchor="middle" font-weight="normal" transform="rotate(-90 1048.5 142.2)" stroke="#28289c" stroke-width="0.25" >32</text>
<line x1="1053" y1="99.3" x2="1077.5" y2="99.3" stroke="#2a2ab8" stroke-width="1.3" />
<line x1="1053" y1="185.3" x2="1083" y2="185.3" stroke="#2a2ab8" stroke-width="1.3" />
<line x1="1069" y1="162.2" x2="1069" y2="192.4" stroke="#2a2ab8" stroke-width="1.45" />
<polygon points="1069,180.3 1067,174.3 1071,174.3" fill="#2a2ab8" stroke="none" stroke-width="0" />
<polygon points="1069,185.3 1071,191.3 1067,191.3" fill="#2a2ab8" stroke="none" stroke-width="0" />
<line x1="1067" y1="180.3" x2="1083" y2="180.3" stroke="#2a2ab8" stroke-width="1.3" />
<text x="1063.4" y="168.66" font-family="Liberation Serif" font-size="9" fill="#28289c" text-anchor="middle" font-weight="normal" transform="rotate(-90 1063.4 165.6)" stroke="#28289c" stroke-width="0.25" >2</text>
<text x="1032.4" y="215.93" font-family="Liberation Serif" font-size="9.5" fill="#28289c" text-anchor="middle" font-weight="normal" stroke="#28289c" stroke-width="0.25" >4x Ø 2.4</text>
<line x1="1014" y1="219.7" x2="1055.5" y2="219.7" stroke="#2a2ab8" stroke-width="1.3" />
<line x1="1055.5" y1="219.7" x2="1093" y2="199.4" stroke="#2a2ab8" stroke-width="1.3" />
<polygon points="1093,199.4 1087.44,204.68 1085.54,201.16" fill="#2a2ab8" stroke="none" stroke-width="0" />
<text x="1033.3" y="236.53" font-family="Liberation Serif" font-size="9.5" fill="#28289c" text-anchor="middle" font-weight="normal" stroke="#28289c" stroke-width="0.25" >8x Ø 6.5</text>
<line x1="1014" y1="240.3" x2="1055.5" y2="240.3" stroke="#2a2ab8" stroke-width="1.3" />
<line x1="1055.5" y1="240.3" x2="1090.8" y2="201.7" stroke="#2a2ab8" stroke-width="1.3" />
<polygon points="1090.8,201.7 1087.28,208.51 1084.33,205.81" fill="#2a2ab8" stroke="none" stroke-width="0" />
<line x1="1236.5" y1="99.3" x2="1267.9" y2="99.3" stroke="#2a2ab8" stroke-width="1.3" />
<line x1="1238.2" y1="610.9" x2="1267.9" y2="610.9" stroke="#2a2ab8" stroke-width="1.3" />
<line x1="1265.9" y1="99.3" x2="1265.9" y2="610.9" stroke="#2a2ab8" stroke-width="1.45" />
<polygon points="1265.9,99.3 1267.9,106.7 1263.9,106.7" fill="#2a2ab8" stroke="none" stroke-width="0" />
<polygon points="1265.9,610.9 1263.9,603.5 1267.9,603.5" fill="#2a2ab8" stroke="none" stroke-width="0" />
<text x="1259.4" y="359.4" font-family="Liberation Serif" font-size="10" fill="#28289c" text-anchor="middle" font-weight="normal" transform="rotate(-90 1259.4 356)" stroke="#28289c" stroke-width="0.25" >189</text>
<line x1="1234" y1="197.2" x2="1254.6" y2="197.2" stroke="#2a2ab8" stroke-width="1.3" />
<line x1="1234" y1="592" x2="1254.6" y2="592" stroke="#2a2ab8" stroke-width="1.3" />
<line x1="1252.3" y1="197.2" x2="1252.3" y2="592" stroke="#2a2ab8" stroke-width="1.45" />
<polygon points="1252.3,197.2 1254.3,204.6 1250.3,204.6" fill="#2a2ab8" stroke="none" stroke-width="0" />
<polygon points="1252.3,592 1250.3,584.6 1254.3,584.6" fill="#2a2ab8" stroke="none" stroke-width="0" />
<text x="1245.3" y="398.6" font-family="Liberation Serif" font-size="10" fill="#28289c" text-anchor="middle" font-weight="normal" transform="rotate(-90 1245.3 395.2)" stroke="#28289c" stroke-width="0.25" >145.5</text>
<line x1="1252.3" y1="592" x2="1252.3" y2="617" stroke="#2a2ab8" stroke-width="1.45" />
<polygon points="1252.3,610.9 1254.3,616.9 1250.3,616.9" fill="#2a2ab8" stroke="none" stroke-width="0" />
<polygon points="1252.3,592 1254.3,598 1250.3,598" fill="#2a2ab8" stroke="none" stroke-width="0" />
<text x="1245.6" y="603.73" font-family="Liberation Serif" font-size="9.5" fill="#28289c" text-anchor="middle" font-weight="normal" transform="rotate(-90 1245.6 600.5)" stroke="#28289c" stroke-width="0.25" >7.25</text>
<line x1="1050.8" y1="552.6" x2="1089.7" y2="552.6" stroke="#2a2ab8" stroke-width="1.45" />
<polygon points="1076.7,552.6 1069.3,554.6 1069.3,550.6" fill="#2a2ab8" stroke="none" stroke-width="0" />
<polygon points="1084.6,552.6 1092,550.6 1092,554.6" fill="#2a2ab8" stroke="none" stroke-width="0" />
<text x="1058.6" y="549.4" font-family="Liberation Serif" font-size="10" fill="#28289c" text-anchor="middle" font-weight="normal" stroke="#28289c" stroke-width="0.25" >2.2</text>
<line x1="1055" y1="572.3" x2="1089.7" y2="572.3" stroke="#2a2ab8" stroke-width="1.45" />
<polygon points="1081.8,572.3 1074.4,574.3 1074.4,570.3" fill="#2a2ab8" stroke="none" stroke-width="0" />
<polygon points="1084.6,572.3 1092,570.3 1092,574.3" fill="#2a2ab8" stroke="none" stroke-width="0" />
<text x="1062.6" y="569.8" font-family="Liberation Serif" font-size="10" fill="#28289c" text-anchor="middle" font-weight="normal" stroke="#28289c" stroke-width="0.25" >0.8</text>
<text x="1053" y="623.6" font-family="Liberation Serif" font-size="10" fill="#28289c" text-anchor="middle" font-weight="normal" stroke="#28289c" stroke-width="0.25" >R 1.6</text>
<line x1="1040.3" y1="627" x2="1068.2" y2="627" stroke="#2a2ab8" stroke-width="1.3" />
<line x1="1068.2" y1="627" x2="1080.4" y2="609.5" stroke="#2a2ab8" stroke-width="1.3" />
<polygon points="1080.4,609.5 1077.81,616.71 1074.53,614.43" fill="#2a2ab8" stroke="none" stroke-width="0" />
<line x1="1095.9" y1="627" x2="1217.9" y2="627" stroke="#2a2ab8" stroke-width="1.45" />
<polygon points="1095.9,627 1103.3,625 1103.3,629" fill="#2a2ab8" stroke="none" stroke-width="0" />
<polygon points="1217.9,627 1210.5,629 1210.5,625" fill="#2a2ab8" stroke="none" stroke-width="0" />
<text x="1157" y="623.6" font-family="Liberation Serif" font-size="10" fill="#28289c" text-anchor="middle" font-weight="normal" stroke="#28289c" stroke-width="0.25" >45</text>
<line x1="1217.9" y1="627" x2="1244.7" y2="627" stroke="#2a2ab8" stroke-width="1.45" />
<polygon points="1238.2,627 1245.6,625 1245.6,629" fill="#2a2ab8" stroke="none" stroke-width="0" />
<text x="1227.8" y="623.43" font-family="Liberation Serif" font-size="9.5" fill="#28289c" text-anchor="middle" font-weight="normal" stroke="#28289c" stroke-width="0.25" >7.25</text>
<line x1="1076.7" y1="640.5" x2="1238.2" y2="640.5" stroke="#2a2ab8" stroke-width="1.45" />
<polygon points="1076.7,640.5 1084.1,638.5 1084.1,642.5" fill="#2a2ab8" stroke="none" stroke-width="0" />
<polygon points="1238.2,640.5 1230.8,642.5 1230.8,638.5" fill="#2a2ab8" stroke="none" stroke-width="0" />
<text x="1157" y="637.4" font-family="Liberation Serif" font-size="10" fill="#28289c" text-anchor="middle" font-weight="normal" stroke="#28289c" stroke-width="0.25" >59.5</text>
<line x1="1076.7" y1="609.5" x2="1076.7" y2="642" stroke="#2a2ab8" stroke-width="1.3" />
<line x1="1238.2" y1="609.5" x2="1238.2" y2="642" stroke="#2a2ab8" stroke-width="1.3" />
<line x1="1095.9" y1="602.5" x2="1095.9" y2="628.5" stroke="#2a2ab8" stroke-width="1.3" />
<line x1="1217.9" y1="602.5" x2="1217.9" y2="628.5" stroke="#2a2ab8" stroke-width="1.3" />
<text x="1435.6" y="92.59" font-family="Liberation Serif" font-size="13.5" fill="#111" text-anchor="middle" font-weight="normal" >D - D</text>
<path fill-rule="evenodd" fill="url(#h4)" d="M1358.3,109.7 L1512.4,109.7 L1512.4,614.1 L1358.3,614.1 Z M1362.6,113.4 L1362.6,610.4 L1510,610.4 L1510,113.4 Z"/>
<rect x="1354.4" y="105.8" width="161.9" height="512.2" rx="5.2" ry="5.2" stroke="#222" stroke-width="1.2" fill="none"/>
<rect x="1358.3" y="109.7" width="154.1" height="504.4" rx="2.5" ry="2.5" stroke="#333" stroke-width="0.9" fill="none"/>
<rect x="1362.6" y="113.4" width="147.4" height="497" fill="none" stroke="#000" stroke-width="1.6"/>
<line x1="1435.6" y1="105.8" x2="1435.6" y2="618" stroke="#dc3434" stroke-width="1" stroke-dasharray="19 1.5 4 1.5" />
<circle cx="1374.2" cy="204.2" r="8.8" stroke="#000" stroke-width="1.1" fill="none"/>
<circle cx="1374.2" cy="204.2" r="5.1" stroke="#000" stroke-width="1.1" fill="none"/>
<line x1="1360.2" y1="204.2" x2="1388.2" y2="204.2" stroke="#dc3434" stroke-width="1.1" />
<line x1="1374.2" y1="190.2" x2="1374.2" y2="218.2" stroke="#dc3434" stroke-width="1.1" />
<circle cx="1374.2" cy="204.2" r="1" stroke="#dc3434" stroke-width="0" fill="#dc3434"/>
<circle cx="1374.2" cy="599.1" r="8.8" stroke="#000" stroke-width="1.1" fill="none"/>
<circle cx="1374.2" cy="599.1" r="5.1" stroke="#000" stroke-width="1.1" fill="none"/>
<line x1="1360.2" y1="599.1" x2="1388.2" y2="599.1" stroke="#dc3434" stroke-width="1.1" />
<line x1="1374.2" y1="585.1" x2="1374.2" y2="613.1" stroke="#dc3434" stroke-width="1.1" />
<circle cx="1374.2" cy="599.1" r="1" stroke="#dc3434" stroke-width="0" fill="#dc3434"/>
<circle cx="1496.5" cy="204.2" r="8.8" stroke="#000" stroke-width="1.1" fill="none"/>
<circle cx="1496.5" cy="204.2" r="5.1" stroke="#000" stroke-width="1.1" fill="none"/>
<line x1="1482.5" y1="204.2" x2="1510.5" y2="204.2" stroke="#dc3434" stroke-width="1.1" />
<line x1="1496.5" y1="190.2" x2="1496.5" y2="218.2" stroke="#dc3434" stroke-width="1.1" />
<circle cx="1496.5" cy="204.2" r="1" stroke="#dc3434" stroke-width="0" fill="#dc3434"/>
<circle cx="1496.5" cy="599.1" r="8.8" stroke="#000" stroke-width="1.1" fill="none"/>
<circle cx="1496.5" cy="599.1" r="5.1" stroke="#000" stroke-width="1.1" fill="none"/>
<line x1="1482.5" y1="599.1" x2="1510.5" y2="599.1" stroke="#dc3434" stroke-width="1.1" />
<line x1="1496.5" y1="585.1" x2="1496.5" y2="613.1" stroke="#dc3434" stroke-width="1.1" />
<circle cx="1496.5" cy="599.1" r="1" stroke="#dc3434" stroke-width="0" fill="#dc3434"/>
<circle cx="1468.6" cy="349.7" r="6.8" stroke="#000" stroke-width="1.1" fill="none"/>
<line x1="1456.6" y1="349.7" x2="1480.6" y2="349.7" stroke="#dc3434" stroke-width="1.1" />
<line x1="1468.6" y1="337.7" x2="1468.6" y2="361.7" stroke="#dc3434" stroke-width="1.1" />
<circle cx="1402.1" cy="449.4" r="6.8" stroke="#000" stroke-width="1.1" fill="none"/>
<line x1="1390.1" y1="449.4" x2="1414.1" y2="449.4" stroke="#dc3434" stroke-width="1.1" />
<line x1="1402.1" y1="437.4" x2="1402.1" y2="461.4" stroke="#dc3434" stroke-width="1.1" />
<circle cx="1468.6" cy="349.7" r="0.9" stroke="#dc3434" stroke-width="0" fill="#dc3434"/>
<circle cx="1402.1" cy="449.4" r="0.9" stroke="#dc3434" stroke-width="0" fill="#dc3434"/>
<text x="1416.4" y="168.23" font-family="Liberation Serif" font-size="9.5" fill="#28289c" text-anchor="middle" font-weight="normal" stroke="#28289c" stroke-width="0.25" >8x Ø 6.5</text>
<line x1="1394.5" y1="171.8" x2="1435.6" y2="171.8" stroke="#2a2ab8" stroke-width="1.3" />
<line x1="1394.5" y1="171.8" x2="1379.8" y2="196.6" stroke="#2a2ab8" stroke-width="1.3" />
<polygon points="1379.8,196.6 1381.85,189.21 1385.29,191.25" fill="#2a2ab8" stroke="none" stroke-width="0" />
<text x="1417" y="184.93" font-family="Liberation Serif" font-size="9.5" fill="#28289c" text-anchor="middle" font-weight="normal" stroke="#28289c" stroke-width="0.25" >4x Ø 3.8</text>
<line x1="1395" y1="188.2" x2="1435.6" y2="188.2" stroke="#2a2ab8" stroke-width="1.3" />
<line x1="1395" y1="188.2" x2="1378.4" y2="199.4" stroke="#2a2ab8" stroke-width="1.3" />
<polygon points="1378.4,199.4 1383.42,193.6 1385.65,196.92" fill="#2a2ab8" stroke="none" stroke-width="0" />
<text x="1445.2" y="317.43" font-family="Liberation Serif" font-size="9.5" fill="#28289c" text-anchor="middle" font-weight="normal" stroke="#28289c" stroke-width="0.25" >2x Ø 5</text>
<line x1="1430.3" y1="320.7" x2="1463" y2="320.7" stroke="#2a2ab8" stroke-width="1.3" />
<line x1="1463" y1="320.7" x2="1467.8" y2="343.2" stroke="#2a2ab8" stroke-width="1.3" />
<polygon points="1467.8,343.2 1464.3,336.38 1468.21,335.55" fill="#2a2ab8" stroke="none" stroke-width="0" />
<line x1="1340.3" y1="105.8" x2="1340.3" y2="449.4" stroke="#2a2ab8" stroke-width="1.45" />
<polygon points="1340.3,105.8 1342.3,113.2 1338.3,113.2" fill="#2a2ab8" stroke="none" stroke-width="0" />
<polygon points="1340.3,349.7 1338.3,342.3 1342.3,342.3" fill="#2a2ab8" stroke="none" stroke-width="0" />
<polygon points="1340.3,349.7 1342.3,357.1 1338.3,357.1" fill="#2a2ab8" stroke="none" stroke-width="0" />
<polygon points="1340.3,449.4 1338.3,442 1342.3,442" fill="#2a2ab8" stroke="none" stroke-width="0" />
<text x="1333.3" y="230.83" font-family="Liberation Serif" font-size="9.5" fill="#28289c" text-anchor="middle" font-weight="normal" transform="rotate(-90 1333.3 227.6)" stroke="#28289c" stroke-width="0.25" >89.8</text>
<text x="1333.3" y="402.73" font-family="Liberation Serif" font-size="9.5" fill="#28289c" text-anchor="middle" font-weight="normal" transform="rotate(-90 1333.3 399.5)" stroke="#28289c" stroke-width="0.25" >36.7</text>
<line x1="1338" y1="105.8" x2="1356.4" y2="105.8" stroke="#2a2ab8" stroke-width="1.3" />
<line x1="1338" y1="349.7" x2="1453.7" y2="349.7" stroke="#2a2ab8" stroke-width="1.3" />
<line x1="1338" y1="449.4" x2="1387.4" y2="449.4" stroke="#2a2ab8" stroke-width="1.3" />
<line x1="1321.7" y1="470.8" x2="1468.6" y2="470.8" stroke="#2a2ab8" stroke-width="1.45" />
<polygon points="1354.4,470.8 1347,472.8 1347,468.8" fill="#2a2ab8" stroke="none" stroke-width="0" />
<polygon points="1402.1,470.8 1409.5,468.8 1409.5,472.8" fill="#2a2ab8" stroke="none" stroke-width="0" />
<polygon points="1468.6,470.8 1461.2,472.8 1461.2,468.8" fill="#2a2ab8" stroke="none" stroke-width="0" />
<text x="1330.5" y="467.53" font-family="Liberation Serif" font-size="9.5" fill="#28289c" text-anchor="middle" font-weight="normal" stroke="#28289c" stroke-width="0.25" >17.5</text>
<text x="1435.6" y="467.53" font-family="Liberation Serif" font-size="9.5" fill="#28289c" text-anchor="middle" font-weight="normal" stroke="#28289c" stroke-width="0.25" >− 24.5 −</text>
<line x1="1402.1" y1="457.3" x2="1402.1" y2="472.8" stroke="#2a2ab8" stroke-width="1.2" stroke-dasharray="5 2" />
<line x1="1468.6" y1="357" x2="1468.6" y2="472.8" stroke="#2a2ab8" stroke-width="1.45" />
<line x1="1468.6" y1="357" x2="1468.6" y2="366" stroke="#dc3434" stroke-width="1.2" />
<line x1="1329" y1="532" x2="1367.7" y2="532" stroke="#2a2ab8" stroke-width="1.45" />
<polygon points="1354.4,532 1347,534 1347,530" fill="#2a2ab8" stroke="none" stroke-width="0" />
<polygon points="1362.6,532 1370,530 1370,534" fill="#2a2ab8" stroke="none" stroke-width="0" />
<text x="1336.7" y="528.73" font-family="Liberation Serif" font-size="9.5" fill="#28289c" text-anchor="middle" font-weight="normal" stroke="#28289c" stroke-width="0.25" >2.2</text>
<line x1="1513" y1="105.8" x2="1553.8" y2="105.8" stroke="#2a2ab8" stroke-width="1.3" />
<line x1="1514.5" y1="618" x2="1553.8" y2="618" stroke="#2a2ab8" stroke-width="1.3" />
<line x1="1550.9" y1="105.8" x2="1550.9" y2="618" stroke="#2a2ab8" stroke-width="1.45" />
<polygon points="1550.9,105.8 1552.9,113.2 1548.9,113.2" fill="#2a2ab8" stroke="none" stroke-width="0" />
<polygon points="1550.9,618 1548.9,610.6 1552.9,610.6" fill="#2a2ab8" stroke="none" stroke-width="0" />
<text x="1544.5" y="364.83" font-family="Liberation Serif" font-size="9.5" fill="#28289c" text-anchor="middle" font-weight="normal" transform="rotate(-90 1544.5 361.6)" stroke="#28289c" stroke-width="0.25" >189</text>
<line x1="1511.5" y1="204.2" x2="1532.6" y2="204.2" stroke="#2a2ab8" stroke-width="1.3" />
<line x1="1511.5" y1="599.1" x2="1532.6" y2="599.1" stroke="#2a2ab8" stroke-width="1.3" />
<line x1="1530.6" y1="204.2" x2="1530.6" y2="599.1" stroke="#2a2ab8" stroke-width="1.45" />
<polygon points="1530.6,204.2 1532.6,211.6 1528.6,211.6" fill="#2a2ab8" stroke="none" stroke-width="0" />
<polygon points="1530.6,599.1 1528.6,591.7 1532.6,591.7" fill="#2a2ab8" stroke="none" stroke-width="0" />
<text x="1523.6" y="405.53" font-family="Liberation Serif" font-size="9.5" fill="#28289c" text-anchor="middle" font-weight="normal" transform="rotate(-90 1523.6 402.3)" stroke="#28289c" stroke-width="0.25" >145.5</text>
<line x1="1530.6" y1="599.1" x2="1530.6" y2="618" stroke="#2a2ab8" stroke-width="1.45" />
<polygon points="1530.6,618 1528.6,612 1532.6,612" fill="#2a2ab8" stroke="none" stroke-width="0" />
<polygon points="1530.6,599.1 1532.6,605.1 1528.6,605.1" fill="#2a2ab8" stroke="none" stroke-width="0" />
<text x="1523.8" y="611.53" font-family="Liberation Serif" font-size="9.5" fill="#28289c" text-anchor="middle" font-weight="normal" transform="rotate(-90 1523.8 608.3)" stroke="#28289c" stroke-width="0.25" >7.25</text>
<line x1="1374.2" y1="633.5" x2="1496.5" y2="633.5" stroke="#2a2ab8" stroke-width="1.45" />
<polygon points="1374.2,633.5 1381.6,631.5 1381.6,635.5" fill="#2a2ab8" stroke="none" stroke-width="0" />
<polygon points="1496.5,633.5 1489.1,635.5 1489.1,631.5" fill="#2a2ab8" stroke="none" stroke-width="0" />
<text x="1435.6" y="630.4" font-family="Liberation Serif" font-size="10" fill="#28289c" text-anchor="middle" font-weight="normal" stroke="#28289c" stroke-width="0.25" >45</text>
<line x1="1496.5" y1="633.5" x2="1523.6" y2="633.5" stroke="#2a2ab8" stroke-width="1.45" />
<polygon points="1516.3,633.5 1523.7,631.5 1523.7,635.5" fill="#2a2ab8" stroke="none" stroke-width="0" />
<text x="1506.7" y="630.23" font-family="Liberation Serif" font-size="9.5" fill="#28289c" text-anchor="middle" font-weight="normal" stroke="#28289c" stroke-width="0.25" >7.25</text>
<line x1="1354.4" y1="647.6" x2="1516.3" y2="647.6" stroke="#2a2ab8" stroke-width="1.45" />
<polygon points="1354.4,647.6 1361.8,645.6 1361.8,649.6" fill="#2a2ab8" stroke="none" stroke-width="0" />
<polygon points="1516.3,647.6 1508.9,649.6 1508.9,645.6" fill="#2a2ab8" stroke="none" stroke-width="0" />
<text x="1435.6" y="644.4" font-family="Liberation Serif" font-size="10" fill="#28289c" text-anchor="middle" font-weight="normal" stroke="#28289c" stroke-width="0.25" >59.5</text>
<line x1="1354.4" y1="615" x2="1354.4" y2="649" stroke="#2a2ab8" stroke-width="1.3" />
<line x1="1516.3" y1="615" x2="1516.3" y2="649" stroke="#2a2ab8" stroke-width="1.3" />
<line x1="1374.2" y1="608" x2="1374.2" y2="635" stroke="#2a2ab8" stroke-width="1.3" />
<line x1="1496.5" y1="608" x2="1496.5" y2="635" stroke="#2a2ab8" stroke-width="1.3" />
<polygon points="893.12,881.05 1164.05,936.3 1166.6,940.12 1166.6,962.86 1124.11,997.5 849.56,941.61 850.2,915.26" fill="#5a5a5a" stroke="#111" stroke-width="1.6" stroke-linejoin="round"/>
<polygon points="895.67,883.17 1163.42,938 1164.48,961.8 1137.49,958.19 892.7,909.31" fill="url(#g_back1)" stroke="none" stroke-width="0" />
<polygon points="893.12,881.69 850.62,915.69 849.99,941.19 869.75,925.67 891.64,909.31" fill="url(#g_left1)" stroke="none" stroke-width="0" />
<polygon points="878.25,921 900.56,911.44 1096.06,949.69 1080.12,959.25" fill="#858585" stroke="none" stroke-width="0" />
<polygon points="871.45,923.12 878.25,921 1071.62,958.82 1071.62,982.2 870.17,939.06" fill="url(#g_plat)" stroke="none" stroke-width="0" />
<polygon points="852.75,937.57 869.75,926.31 870.17,939.06 861.25,940.12" fill="#6b6b6b" stroke="none" stroke-width="0" />
<polygon points="1081.18,959.25 1096.06,949.69 1116.24,953.94 1084.37,981.56" fill="#555" stroke="none" stroke-width="0" />
<polygon points="1084.37,982.62 1105.62,968.17 1122.62,972 1122.62,994.31" fill="#767676" stroke="none" stroke-width="0" />
<polygon points="1105.62,968.17 1120.49,955.42 1137.49,958.61 1122.62,972" fill="#8a8a8a" stroke="none" stroke-width="0" />
<polygon points="1122.62,972 1137.49,958.61 1165.12,962.86 1124.11,995.8" fill="#484848" stroke="none" stroke-width="0" />
<line x1="1116.24" y1="953.94" x2="1084.37" y2="981.56" stroke="#222" stroke-width="1.2" />
<line x1="1120.49" y1="955" x2="1087.56" y2="983.05" stroke="#999" stroke-width="0.8" />
<line x1="892.06" y1="909.31" x2="1164.69" y2="962.01" stroke="#141414" stroke-width="1.8" />
<line x1="892.27" y1="907.61" x2="849.99" y2="941.19" stroke="#161616" stroke-width="1.6" />
<line x1="870.17" y1="925.67" x2="870.17" y2="938.42" stroke="#1c1c1c" stroke-width="1.1" />
<line x1="871.87" y1="923.12" x2="1071.62" y2="961.37" stroke="#1c1c1c" stroke-width="1.2" />
<path d="M849.56,940.61 L1124.11,996.3 L1166.1,961.86" stroke="#1c1c1c" stroke-width="2.6" fill="none" stroke-linejoin="round"/>
<line x1="893.12" y1="881.69" x2="1164.05" y2="936.94" stroke="#151515" stroke-width="1.8" />
<line x1="893.55" y1="882.75" x2="892.27" y2="909.31" stroke="#888" stroke-width="1" />
<rect x="1070.98" y="958.19" width="10.2" height="23.37" fill="url(#g_cyl)"/>
<ellipse cx="1076.08" cy="958.19" rx="5.1" ry="1.8" fill="#888" stroke="#333" stroke-width="0.6"/>
<ellipse cx="1076.08" cy="981.56" rx="5.1" ry="2" fill="#333"/>
<ellipse cx="896.95" cy="911.44" rx="5.5" ry="2.6" fill="#2e2e2e"/>
<ellipse cx="896.95" cy="911.04" rx="3" ry="1.3" fill="#777"/>
<ellipse cx="863.37" cy="938.42" rx="5.5" ry="2.6" fill="#2e2e2e"/>
<ellipse cx="863.37" cy="938.02" rx="3" ry="1.3" fill="#777"/>
<ellipse cx="1108.81" cy="954.57" rx="5.5" ry="2.6" fill="#2e2e2e"/>
<ellipse cx="1108.81" cy="954.17" rx="3" ry="1.3" fill="#777"/>
<polygon points="893.12,958.07 895.67,958.5 1164.05,1013.32 1166.6,1016.3 1165.54,1043.92 1123.04,1078.98 853.17,1023.95 850.2,1020.12 849.14,994.2" fill="#5f5f5f" stroke="#111" stroke-width="1.6" stroke-linejoin="round"/>
<polygon points="893.12,958.5 849.56,994.62 850.62,1019.06 892.06,989.74" fill="url(#g_left2)" stroke="none" stroke-width="0" />
<polygon points="894.82,958.92 1164.05,1013.75 1164.69,1043.5 892.27,989.52" fill="url(#g_wall2)" stroke="none" stroke-width="0" />
<polygon points="892.27,990.37 1163.84,1044.77 1123.04,1078.35 853.6,1023.52" fill="url(#g_bot2)" stroke="none" stroke-width="0" />
<line x1="892.27" y1="990.16" x2="1163.84" y2="1044.56" stroke="#aaa" stroke-width="1.1" />
<line x1="892.27" y1="988.89" x2="1164.48" y2="1043.07" stroke="#333" stroke-width="0.9" />
<line x1="892.27" y1="990.16" x2="852.75" y2="1022.67" stroke="#999" stroke-width="1" />
<line x1="893.55" y1="959.56" x2="892.27" y2="989.52" stroke="#8a8a8a" stroke-width="1" />
<ellipse cx="896.95" cy="995.05" rx="5.4" ry="2.5" fill="#c9c9c9" stroke="#444" stroke-width="0.7"/>
<ellipse cx="863.37" cy="1022.25" rx="5.4" ry="2.5" fill="#c9c9c9" stroke="#444" stroke-width="0.7"/>
<ellipse cx="1108.81" cy="1038.19" rx="5.4" ry="2.5" fill="#c9c9c9" stroke="#444" stroke-width="0.7"/>
<ellipse cx="1076.29" cy="1065.81" rx="5.4" ry="2.5" fill="#c9c9c9" stroke="#444" stroke-width="0.7"/>
<polygon points="1233.81,833.32 1500.92,778.92 1503.68,779.56 1543.42,812.5 1545.54,815.05 1546.18,839.06 1275.67,894.95 1272.06,894.31 1229.56,861.8 1230.62,837.57" fill="#6a6a6a" stroke="#111" stroke-width="1.6" stroke-linejoin="round"/>
<polygon points="1234.45,834.17 1500.92,779.77 1542.57,813.35 1274.82,868.17" fill="#6c6c6c" stroke="none" stroke-width="0" />
<polygon points="1327.31,815.9 1497.94,782.32 1537.04,813.14 1361.95,847.35" fill="url(#g_lidtop)" stroke="none" stroke-width="0" />
<path d="M1327.31,815.9 L1497.94,782.32 L1537.04,813.14" stroke="#222" stroke-width="1.6" fill="none" />
<line x1="1327.31" y1="815.9" x2="1361.95" y2="847.35" stroke="#333" stroke-width="0.8" />
<polygon points="1274.82,868.17 1542.57,813.35 1544.69,815.47 1275.67,871.15" fill="#2f2f2f" stroke="none" stroke-width="0" />
<polygon points="1234.45,834.17 1274.82,868.17 1275.67,871.15 1232.32,836.72" fill="#3a3a3a" stroke="none" stroke-width="0" />
<polygon points="1500.92,779.77 1503.68,779.77 1544.05,813.56 1542.57,813.35" fill="#3a3a3a" stroke="none" stroke-width="0" />
<polygon points="1275.67,871.15 1544.69,815.47 1545.75,839.06 1275.67,894.52" fill="url(#g_front3)" stroke="none" stroke-width="0" />
<polygon points="1232.32,836.72 1275.67,871.15 1275.67,894.52 1229.99,861.8" fill="url(#g_left3)" stroke="none" stroke-width="0" />
<line x1="1274.19" y1="869.87" x2="1274.19" y2="894.31" stroke="#c8c8c8" stroke-width="1.2" />
<polygon points="1232.32,912.05 1500.92,855.95 1503.68,856.37 1544.69,889.95 1546.18,892.5 1545.12,921.61 1275.67,977.07 1272.06,975.8 1231.69,941.8 1229.56,915.87" fill="#6c6c6c" stroke="#111" stroke-width="1.6" stroke-linejoin="round"/>
<polygon points="1238.06,912.69 1501.56,859.56 1501.56,887.82 1265.69,935.42" fill="#7b7b7b" stroke="none" stroke-width="0" />
<polygon points="1501.56,859.56 1539.8,891.44 1513.24,895.05 1501.56,887.82" fill="#5e5e5e" stroke="none" stroke-width="0" />
<polygon points="1265.69,935.42 1501.56,887.82 1513.24,895.05 1275.67,943.07" fill="#6b6b6b" stroke="none" stroke-width="0" />
<path d="M1265.69,935.42 L1501.56,887.82 L1513.24,895.05" stroke="#2a2a2a" stroke-width="0.9" fill="none" />
<line x1="1501.56" y1="859.56" x2="1501.56" y2="887.82" stroke="#333" stroke-width="0.8" />
<polygon points="1238.06,912.69 1265.69,935.42 1275.67,943.07 1234.87,913.75" fill="#4a4a4a" stroke="none" stroke-width="0" />
<polygon points="1232.32,912.9 1273.12,944.56 1275.67,946.69 1232.75,915.02" fill="#333" stroke="none" stroke-width="0" />
<polygon points="1273.12,944.56 1542.99,890.37 1545.12,892.5 1275.67,947.32" fill="#2b2b2b" stroke="none" stroke-width="0" />
<polygon points="1275.67,943.07 1539.8,891.44 1542.99,890.37 1273.12,944.56" fill="#8a8a8a" stroke="none" stroke-width="0" />
<polygon points="1232.32,912.05 1500.92,855.95 1502.19,858.07 1237,912.9" fill="#3a3a3a" stroke="none" stroke-width="0" />
<polygon points="1500.92,855.95 1503.68,856.37 1544.69,890.37 1539.8,891.44 1501.56,859.56" fill="#444" stroke="none" stroke-width="0" />
<polygon points="1275.67,947.32 1545.12,892.5 1544.69,921.61 1275.67,976.86" fill="url(#g_front4)" stroke="none" stroke-width="0" />
<polygon points="1230.2,915.02 1275.67,947.32 1275.67,976.86 1231.69,941.8" fill="url(#g_left3)" stroke="none" stroke-width="0" />
<line x1="1274.19" y1="946.69" x2="1274.19" y2="976.43" stroke="#c8c8c8" stroke-width="1.2" />
<rect x="1450.34" y="878.69" width="11.47" height="20.61" fill="url(#g_cyl2)"/>
<ellipse cx="1456.08" cy="899.3" rx="5.74" ry="1.6" fill="url(#g_cyl2)"/>
<ellipse cx="1456.08" cy="878.69" rx="5.74" ry="2" fill="#bdbdbd" stroke="#555" stroke-width="0.6"/>
<ellipse cx="1456.08" cy="878.69" rx="2.87" ry="0.9" fill="#777"/>
<rect x="1327.95" y="919.06" width="8.92" height="12.75" fill="url(#g_cyl2)"/>
<ellipse cx="1332.41" cy="931.81" rx="4.46" ry="1.6" fill="url(#g_cyl2)"/>
<ellipse cx="1332.41" cy="919.06" rx="4.46" ry="2" fill="#bdbdbd" stroke="#555" stroke-width="0.6"/>
<ellipse cx="1332.41" cy="919.06" rx="2.23" ry="0.9" fill="#777"/>
<polygon points="1245.5,921.19 1250.81,922.25 1250.81,924.8 1245.5,923.31" fill="#222" stroke="none" stroke-width="0" />
</g>
</svg>
</body></html>
